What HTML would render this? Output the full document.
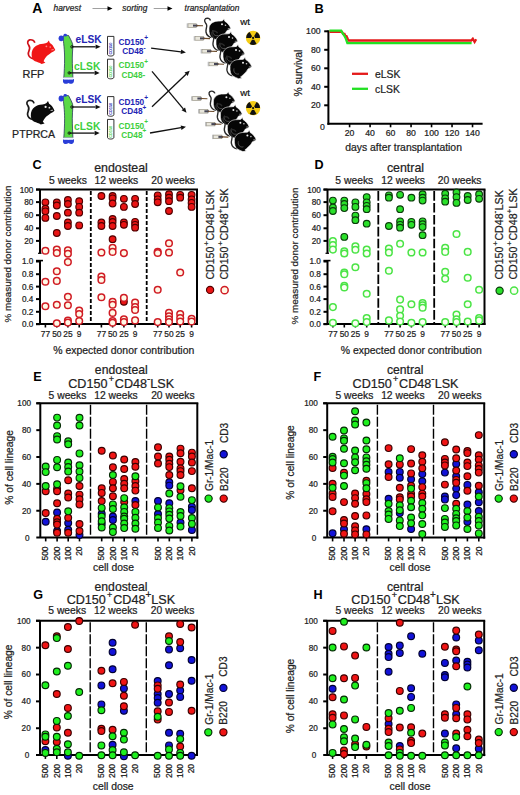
<!DOCTYPE html>
<html><head><meta charset="utf-8"><style>
html,body{margin:0;padding:0;background:#fff;width:520px;height:795px;overflow:hidden}
svg{display:block}
text{font-family:"Liberation Sans",sans-serif}
</style></head><body>
<svg width="520" height="795" viewBox="0 0 520 795">
<rect width="520" height="795" fill="#fff"/>
<text x="32.30" y="13.20" font-size="14" text-anchor="start" fill="#000" font-weight="bold">A</text>
<text x="53.50" y="10.70" font-size="8.4" text-anchor="start" fill="#222" font-style="italic" stroke="#222" stroke-width="0.22">harvest</text>
<text x="122.30" y="10.70" font-size="8.4" text-anchor="start" fill="#222" font-style="italic" stroke="#222" stroke-width="0.22">sorting</text>
<text x="184.60" y="10.70" font-size="8.35" text-anchor="start" fill="#222" font-style="italic" stroke="#222" stroke-width="0.22">transplantation</text>
<line x1="92.50" y1="8.50" x2="108.50" y2="8.50" stroke="#a0a0a0" stroke-width="1.0" stroke-linecap="butt"/>
<path d="M107.5,6.2 L112.5,8.5 L107.5,10.8 Z" fill="#000"/>
<line x1="153.70" y1="8.50" x2="168.50" y2="8.50" stroke="#a0a0a0" stroke-width="1.0" stroke-linecap="butt"/>
<path d="M167.5,6.2 L172.5,8.5 L167.5,10.8 Z" fill="#000"/>
<path d="M34.8,42.8 C34.3,40.5 31.8,39.3 29.7,39.9 C27.4,40.7 27.1,43 28.6,45 C29.9,46.7 29.9,48.8 29,50.8 C28.1,52.8 28.1,55.2 29.8,57 C30.8,58.1 32,58.6 33.5,58.8" fill="none" stroke="#d01018" stroke-width="1.7"/>
<path d="M31.6,55 C31.4,51 33,48 35.5,46.3 C37,45.3 39,44.5 41,44.1 C42.5,43.8 44,43.6 45.5,43.3 L47.3,42.4 L48.8,40.4 L49.9,43.1 C51.5,44 52.6,45 53.2,46.2 C54.1,47.4 54.8,48.8 55.3,50.1 C54.2,51.4 52.9,52.1 51.5,52.6 C50,53.9 48.5,55 47.1,55.8 C45.6,57.2 44.4,59.2 43.6,61.2 L45.4,62.8 L41.6,63.9 C39.5,62.6 37.2,62 35,61.2 C32.8,60.2 31.7,58 31.6,55 Z" fill="#f01616"/>
<circle cx="46.4" cy="46.3" r="0.9" fill="#ff8a8a"/><circle cx="50.2" cy="47.1" r="0.8" fill="#ff8a8a"/><path d="M51.4,49.9 L53.8,49.6" stroke="#ffb0b0" stroke-width="0.8"/>
<text x="22.60" y="77.50" font-size="10.9" text-anchor="start" fill="#222" stroke="#222" stroke-width="0.22">RFP</text>
<g transform="translate(-0.8,60.6) scale(1)">
<path d="M34.8,42.8 C34.3,40.5 31.8,39.3 29.7,39.9 C27.4,40.7 27.1,43 28.6,45 C29.9,46.7 29.9,48.8 29,50.8 C28.1,52.8 28.1,55.2 29.8,57 C30.8,58.1 32,58.6 33.5,58.8" fill="none" stroke="#1a1a1a" stroke-width="1.7"/>
<path d="M31.6,55 C31.4,51 33,48 35.5,46.3 C37,45.3 39,44.5 41,44.1 C42.5,43.8 44,43.6 45.5,43.3 L47.3,42.4 L48.8,40.4 L49.9,43.1 C51.5,44 52.6,45 53.2,46.2 C54.1,47.4 54.8,48.8 55.3,50.1 C54.2,51.4 52.9,52.1 51.5,52.6 C50,53.9 48.5,55 47.1,55.8 C45.6,57.2 44.4,59.2 43.6,61.2 L45.4,62.8 L41.6,63.9 C39.5,62.6 37.2,62 35,61.2 C32.8,60.2 31.7,58 31.6,55 Z" fill="#0a0a0a"/>
<circle cx="46.4" cy="46.3" r="1.1" fill="#eee"/><circle cx="50.2" cy="47.1" r="0.9" fill="#ddd"/><path d="M51.4,49.9 L53.8,49.6" stroke="#ccc" stroke-width="0.9"/>
</g>
<text x="12.10" y="138.00" font-size="10.6" text-anchor="start" fill="#222" stroke="#222" stroke-width="0.22">PTPRCA</text>
<g transform="translate(0,0)">
<path d="M63,37 L64.6,35 L68.6,35.5 L69.9,38 C71.1,40.5 72.7,43 72.9,46 C72.7,50 72.3,54 72.3,58 C72.3,66 72.7,72 72.9,77.6 L63.8,77.6 C64.2,72 64.6,66 64.6,58 C64.6,50 63.5,42 63,37 Z" fill="#5ad846" stroke="#2a3a5a" stroke-width="0.8"/>
<ellipse cx="61.2" cy="38.3" rx="2.6" ry="2.9" fill="#2a3ed8"/>
<ellipse cx="65.2" cy="35.2" rx="1.7" ry="1.4" fill="#2a3ed8"/>
<path d="M63.2,79.2 C65,78.2 66.5,78.5 68.4,79.2 C70.2,78.4 72.4,78.2 73.9,79.2 C74.4,81.2 73.6,83.4 71.6,83.7 C70,83.9 69,83.3 68.4,82.9 C67.3,83.7 65.5,84.1 64.2,83.5 C62.9,82.8 62.7,80.6 63.2,79.2 Z" fill="#2a3ed8"/>
<rect x="63.8" y="77.4" width="9.2" height="2.2" fill="#eef4ff"/>
</g>
<g transform="translate(0,60.2)">
<path d="M63,37 L64.6,35 L68.6,35.5 L69.9,38 C71.1,40.5 72.7,43 72.9,46 C72.7,50 72.3,54 72.3,58 C72.3,66 72.7,72 72.9,77.6 L63.8,77.6 C64.2,72 64.6,66 64.6,58 C64.6,50 63.5,42 63,37 Z" fill="#5ad846" stroke="#2a3a5a" stroke-width="0.8"/>
<ellipse cx="61.2" cy="38.3" rx="2.6" ry="2.9" fill="#2a3ed8"/>
<ellipse cx="65.2" cy="35.2" rx="1.7" ry="1.4" fill="#2a3ed8"/>
<path d="M63.2,79.2 C65,78.2 66.5,78.5 68.4,79.2 C70.2,78.4 72.4,78.2 73.9,79.2 C74.4,81.2 73.6,83.4 71.6,83.7 C70,83.9 69,83.3 68.4,82.9 C67.3,83.7 65.5,84.1 64.2,83.5 C62.9,82.8 62.7,80.6 63.2,79.2 Z" fill="#2a3ed8"/>
<rect x="63.8" y="77.4" width="9.2" height="2.2" fill="#eef4ff"/>
</g>
<line x1="71.90" y1="46.80" x2="95.60" y2="46.80" stroke="#111" stroke-width="1.3" stroke-linecap="butt"/>
<path d="M100.60,46.80 L95.60,49.10 L95.60,44.50 Z" fill="#111"/>
<circle cx="71.9" cy="46.8" r="1.2" fill="none" stroke="#111" stroke-width="0.9"/>
<line x1="69.20" y1="72.90" x2="94.60" y2="72.90" stroke="#111" stroke-width="1.3" stroke-linecap="butt"/>
<path d="M99.60,72.90 L94.60,75.20 L94.60,70.60 Z" fill="#111"/>
<circle cx="69.2" cy="72.9" r="1.2" fill="none" stroke="#111" stroke-width="0.9"/>
<text x="75.60" y="42.70" font-size="10.2" text-anchor="start" fill="#2424b4" font-weight="bold">eLSK</text>
<text x="74.10" y="69.90" font-size="10.25" text-anchor="start" fill="#3ecf3e" font-weight="bold">cLSK</text>
<path d="M107.5,36.4 L113.9,36.4 L113.9,54.4 C113.9,56.599999999999994 107.5,56.599999999999994 107.5,54.4 Z" fill="#fff" stroke="#1a1a1a" stroke-width="0.9"/>
<path d="M107.5,59.2 L113.9,59.2 L113.9,77.2 C113.9,79.4 107.5,79.4 107.5,77.2 Z" fill="#fff" stroke="#1a1a1a" stroke-width="0.9"/>
<text transform="translate(112.2,54.5) rotate(-90)" font-size="3.8" font-weight="bold" fill="#2424b4">CD150</text>
<text transform="translate(112.2,77.5) rotate(-90)" font-size="3.8" font-weight="bold" fill="#3ecf3e">CD150</text>
<line x1="71.90" y1="107.00" x2="95.60" y2="107.00" stroke="#111" stroke-width="1.3" stroke-linecap="butt"/>
<path d="M100.60,107.00 L95.60,109.30 L95.60,104.70 Z" fill="#111"/>
<circle cx="71.9" cy="107.0" r="1.2" fill="none" stroke="#111" stroke-width="0.9"/>
<line x1="69.20" y1="133.10" x2="94.60" y2="133.10" stroke="#111" stroke-width="1.3" stroke-linecap="butt"/>
<path d="M99.60,133.10 L94.60,135.40 L94.60,130.80 Z" fill="#111"/>
<circle cx="69.2" cy="133.10000000000002" r="1.2" fill="none" stroke="#111" stroke-width="0.9"/>
<text x="75.60" y="102.90" font-size="10.2" text-anchor="start" fill="#2424b4" font-weight="bold">eLSK</text>
<text x="74.10" y="130.10" font-size="10.25" text-anchor="start" fill="#3ecf3e" font-weight="bold">cLSK</text>
<path d="M107.5,96.6 L113.9,96.6 L113.9,114.6 C113.9,116.8 107.5,116.8 107.5,114.6 Z" fill="#fff" stroke="#1a1a1a" stroke-width="0.9"/>
<path d="M107.5,119.4 L113.9,119.4 L113.9,137.4 C113.9,139.6 107.5,139.6 107.5,137.4 Z" fill="#fff" stroke="#1a1a1a" stroke-width="0.9"/>
<text transform="translate(112.2,114.7) rotate(-90)" font-size="3.8" font-weight="bold" fill="#2424b4">CD150</text>
<text transform="translate(112.2,137.7) rotate(-90)" font-size="3.8" font-weight="bold" fill="#3ecf3e">CD150</text>
<text x="118.4" y="44.7" font-size="8.3" font-weight="bold" fill="#2424b4">CD150<tspan dy="-4.6" font-size="6.5">+</tspan></text>
<text x="122.2" y="54.3" font-size="8.3" font-weight="bold" fill="#2424b4">CD48<tspan dy="-4.6" font-size="6.5">-</tspan></text>
<text x="118.4" y="68.4" font-size="8.3" font-weight="bold" fill="#3ecf3e">CD150<tspan dy="-4.6" font-size="6.5">+</tspan></text>
<text x="121.4" y="77.6" font-size="8.3" font-weight="bold" fill="#3ecf3e">CD48-</text>
<text x="118.4" y="104.9" font-size="8.3" font-weight="bold" fill="#2424b4">CD150<tspan dy="-4.6" font-size="6.5">+</tspan></text>
<text x="121.3" y="114.1" font-size="8.3" font-weight="bold" fill="#2424b4">CD48<tspan dy="-4.6" font-size="6.5">+</tspan></text>
<text x="118.4" y="128.5" font-size="8.3" font-weight="bold" fill="#3ecf3e">CD150<tspan dy="-4.6" font-size="6.5">+</tspan></text>
<text x="121.3" y="137.7" font-size="8.3" font-weight="bold" fill="#3ecf3e">CD48<tspan dy="-4.6" font-size="6.5">+</tspan></text>
<line x1="151.10" y1="48.20" x2="180.94" y2="51.80" stroke="#111" stroke-width="1.3" stroke-linecap="butt"/>
<path d="M185.90,52.40 L180.66,54.08 L181.21,49.52 Z" fill="#111"/>
<line x1="152.00" y1="71.40" x2="183.29" y2="108.86" stroke="#111" stroke-width="1.3" stroke-linecap="butt"/>
<path d="M186.50,112.70 L181.53,110.34 L185.06,107.39 Z" fill="#111"/>
<line x1="152.00" y1="106.70" x2="186.08" y2="74.25" stroke="#111" stroke-width="1.3" stroke-linecap="butt"/>
<path d="M189.70,70.80 L187.67,75.91 L184.49,72.58 Z" fill="#111"/>
<line x1="150.00" y1="133.00" x2="181.07" y2="127.65" stroke="#111" stroke-width="1.3" stroke-linecap="butt"/>
<path d="M186.00,126.80 L181.46,129.92 L180.68,125.38 Z" fill="#111"/>
<rect x="188" y="23.8" width="8.5" height="3.6" fill="#e8e6dc" stroke="#8a8676" stroke-width="0.6"/>
<rect x="193" y="24.6" width="4.5" height="2" fill="#445"/>
<path d="M196.5,25.6 L203,25.8" stroke="#6b4a2a" stroke-width="1.1"/>
<rect x="186.7" y="23.400000000000002" width="1.3" height="4.4" fill="#bbb"/>
<g transform="translate(209,20.0)">
<path d="M1.5,0.5 C1,-1.3 -1.5,-2.5 -3.5,-1.3 C-5.3,0 -4,2.5 -2.5,4.5 C-1.5,6.5 -3.5,9 -3,12 C-2.5,14.5 -0.5,17 2.5,17.5" fill="none" stroke="#2a2a2a" stroke-width="1.4"/>
<path d="M0,8 C0.5,4 4,1.5 8,1.2 C10,1 12,1.3 13.5,0.8 L15,-1.2 L15.8,1.2 C18,2.5 20.5,5 21.8,8.2 C21,9.3 19.5,10 18,10.5 C17,12.5 15.5,14.5 13.5,16 C12.5,17 11.5,18 10.5,18.6 L12,19.8 L8.5,20.3 C6.5,19.4 4.5,18.6 2.8,17.6 C0.8,16.3 -0.3,13 0,8 Z" fill="#060606" stroke="#fff" stroke-width="0.6"/>
<circle cx="13" cy="4.3" r="1" fill="#eee"/><circle cx="16.5" cy="5.3" r="0.8" fill="#ccc"/><path d="M18.8,8.6 L21.2,8.3" stroke="#bbb" stroke-width="0.7"/>
<path d="M4,10 C3,14 6,16.5 9,15.5" fill="none" stroke="#555" stroke-width="0.9"/>
</g>
<rect x="195" y="36.599999999999994" width="8.5" height="3.6" fill="#e8e6dc" stroke="#8a8676" stroke-width="0.6"/>
<rect x="200" y="37.39999999999999" width="4.5" height="2" fill="#445"/>
<path d="M203.5,38.39999999999999 L210,38.599999999999994" stroke="#6b4a2a" stroke-width="1.1"/>
<rect x="193.7" y="36.199999999999996" width="1.3" height="4.4" fill="#bbb"/>
<g transform="translate(216,32.8)">
<path d="M1.5,0.5 C1,-1.3 -1.5,-2.5 -3.5,-1.3 C-5.3,0 -4,2.5 -2.5,4.5 C-1.5,6.5 -3.5,9 -3,12 C-2.5,14.5 -0.5,17 2.5,17.5" fill="none" stroke="#2a2a2a" stroke-width="1.4"/>
<path d="M0,8 C0.5,4 4,1.5 8,1.2 C10,1 12,1.3 13.5,0.8 L15,-1.2 L15.8,1.2 C18,2.5 20.5,5 21.8,8.2 C21,9.3 19.5,10 18,10.5 C17,12.5 15.5,14.5 13.5,16 C12.5,17 11.5,18 10.5,18.6 L12,19.8 L8.5,20.3 C6.5,19.4 4.5,18.6 2.8,17.6 C0.8,16.3 -0.3,13 0,8 Z" fill="#060606" stroke="#fff" stroke-width="0.6"/>
<circle cx="13" cy="4.3" r="1" fill="#eee"/><circle cx="16.5" cy="5.3" r="0.8" fill="#ccc"/><path d="M18.8,8.6 L21.2,8.3" stroke="#bbb" stroke-width="0.7"/>
<path d="M4,10 C3,14 6,16.5 9,15.5" fill="none" stroke="#555" stroke-width="0.9"/>
</g>
<rect x="202" y="49.4" width="8.5" height="3.6" fill="#e8e6dc" stroke="#8a8676" stroke-width="0.6"/>
<rect x="207" y="50.199999999999996" width="4.5" height="2" fill="#445"/>
<path d="M210.5,51.199999999999996 L217,51.4" stroke="#6b4a2a" stroke-width="1.1"/>
<rect x="200.7" y="49.0" width="1.3" height="4.4" fill="#bbb"/>
<g transform="translate(223,45.6)">
<path d="M1.5,0.5 C1,-1.3 -1.5,-2.5 -3.5,-1.3 C-5.3,0 -4,2.5 -2.5,4.5 C-1.5,6.5 -3.5,9 -3,12 C-2.5,14.5 -0.5,17 2.5,17.5" fill="none" stroke="#2a2a2a" stroke-width="1.4"/>
<path d="M0,8 C0.5,4 4,1.5 8,1.2 C10,1 12,1.3 13.5,0.8 L15,-1.2 L15.8,1.2 C18,2.5 20.5,5 21.8,8.2 C21,9.3 19.5,10 18,10.5 C17,12.5 15.5,14.5 13.5,16 C12.5,17 11.5,18 10.5,18.6 L12,19.8 L8.5,20.3 C6.5,19.4 4.5,18.6 2.8,17.6 C0.8,16.3 -0.3,13 0,8 Z" fill="#060606" stroke="#fff" stroke-width="0.6"/>
<circle cx="13" cy="4.3" r="1" fill="#eee"/><circle cx="16.5" cy="5.3" r="0.8" fill="#ccc"/><path d="M18.8,8.6 L21.2,8.3" stroke="#bbb" stroke-width="0.7"/>
<path d="M4,10 C3,14 6,16.5 9,15.5" fill="none" stroke="#555" stroke-width="0.9"/>
</g>
<rect x="209" y="62.2" width="8.5" height="3.6" fill="#e8e6dc" stroke="#8a8676" stroke-width="0.6"/>
<rect x="214" y="63.0" width="4.5" height="2" fill="#445"/>
<path d="M217.5,64.0 L224,64.2" stroke="#6b4a2a" stroke-width="1.1"/>
<rect x="207.7" y="61.800000000000004" width="1.3" height="4.4" fill="#bbb"/>
<g transform="translate(230,58.400000000000006)">
<path d="M1.5,0.5 C1,-1.3 -1.5,-2.5 -3.5,-1.3 C-5.3,0 -4,2.5 -2.5,4.5 C-1.5,6.5 -3.5,9 -3,12 C-2.5,14.5 -0.5,17 2.5,17.5" fill="none" stroke="#2a2a2a" stroke-width="1.4"/>
<path d="M0,8 C0.5,4 4,1.5 8,1.2 C10,1 12,1.3 13.5,0.8 L15,-1.2 L15.8,1.2 C18,2.5 20.5,5 21.8,8.2 C21,9.3 19.5,10 18,10.5 C17,12.5 15.5,14.5 13.5,16 C12.5,17 11.5,18 10.5,18.6 L12,19.8 L8.5,20.3 C6.5,19.4 4.5,18.6 2.8,17.6 C0.8,16.3 -0.3,13 0,8 Z" fill="#060606" stroke="#fff" stroke-width="0.6"/>
<circle cx="13" cy="4.3" r="1" fill="#eee"/><circle cx="16.5" cy="5.3" r="0.8" fill="#ccc"/><path d="M18.8,8.6 L21.2,8.3" stroke="#bbb" stroke-width="0.7"/>
<path d="M4,10 C3,14 6,16.5 9,15.5" fill="none" stroke="#555" stroke-width="0.9"/>
</g>
<rect x="192.4" y="96.7" width="8.5" height="3.6" fill="#e8e6dc" stroke="#8a8676" stroke-width="0.6"/>
<rect x="197.4" y="97.5" width="4.5" height="2" fill="#445"/>
<path d="M200.9,98.5 L207.4,98.7" stroke="#6b4a2a" stroke-width="1.1"/>
<rect x="191.1" y="96.3" width="1.3" height="4.4" fill="#bbb"/>
<g transform="translate(213.4,92.9)">
<path d="M1.5,0.5 C1,-1.3 -1.5,-2.5 -3.5,-1.3 C-5.3,0 -4,2.5 -2.5,4.5 C-1.5,6.5 -3.5,9 -3,12 C-2.5,14.5 -0.5,17 2.5,17.5" fill="none" stroke="#2a2a2a" stroke-width="1.4"/>
<path d="M0,8 C0.5,4 4,1.5 8,1.2 C10,1 12,1.3 13.5,0.8 L15,-1.2 L15.8,1.2 C18,2.5 20.5,5 21.8,8.2 C21,9.3 19.5,10 18,10.5 C17,12.5 15.5,14.5 13.5,16 C12.5,17 11.5,18 10.5,18.6 L12,19.8 L8.5,20.3 C6.5,19.4 4.5,18.6 2.8,17.6 C0.8,16.3 -0.3,13 0,8 Z" fill="#060606" stroke="#fff" stroke-width="0.6"/>
<circle cx="13" cy="4.3" r="1" fill="#eee"/><circle cx="16.5" cy="5.3" r="0.8" fill="#ccc"/><path d="M18.8,8.6 L21.2,8.3" stroke="#bbb" stroke-width="0.7"/>
<path d="M4,10 C3,14 6,16.5 9,15.5" fill="none" stroke="#555" stroke-width="0.9"/>
</g>
<rect x="199.4" y="109.5" width="8.5" height="3.6" fill="#e8e6dc" stroke="#8a8676" stroke-width="0.6"/>
<rect x="204.4" y="110.3" width="4.5" height="2" fill="#445"/>
<path d="M207.9,111.3 L214.4,111.5" stroke="#6b4a2a" stroke-width="1.1"/>
<rect x="198.1" y="109.1" width="1.3" height="4.4" fill="#bbb"/>
<g transform="translate(220.4,105.7)">
<path d="M1.5,0.5 C1,-1.3 -1.5,-2.5 -3.5,-1.3 C-5.3,0 -4,2.5 -2.5,4.5 C-1.5,6.5 -3.5,9 -3,12 C-2.5,14.5 -0.5,17 2.5,17.5" fill="none" stroke="#2a2a2a" stroke-width="1.4"/>
<path d="M0,8 C0.5,4 4,1.5 8,1.2 C10,1 12,1.3 13.5,0.8 L15,-1.2 L15.8,1.2 C18,2.5 20.5,5 21.8,8.2 C21,9.3 19.5,10 18,10.5 C17,12.5 15.5,14.5 13.5,16 C12.5,17 11.5,18 10.5,18.6 L12,19.8 L8.5,20.3 C6.5,19.4 4.5,18.6 2.8,17.6 C0.8,16.3 -0.3,13 0,8 Z" fill="#060606" stroke="#fff" stroke-width="0.6"/>
<circle cx="13" cy="4.3" r="1" fill="#eee"/><circle cx="16.5" cy="5.3" r="0.8" fill="#ccc"/><path d="M18.8,8.6 L21.2,8.3" stroke="#bbb" stroke-width="0.7"/>
<path d="M4,10 C3,14 6,16.5 9,15.5" fill="none" stroke="#555" stroke-width="0.9"/>
</g>
<rect x="206.4" y="122.3" width="8.5" height="3.6" fill="#e8e6dc" stroke="#8a8676" stroke-width="0.6"/>
<rect x="211.4" y="123.1" width="4.5" height="2" fill="#445"/>
<path d="M214.9,124.1 L221.4,124.3" stroke="#6b4a2a" stroke-width="1.1"/>
<rect x="205.1" y="121.89999999999999" width="1.3" height="4.4" fill="#bbb"/>
<g transform="translate(227.4,118.5)">
<path d="M1.5,0.5 C1,-1.3 -1.5,-2.5 -3.5,-1.3 C-5.3,0 -4,2.5 -2.5,4.5 C-1.5,6.5 -3.5,9 -3,12 C-2.5,14.5 -0.5,17 2.5,17.5" fill="none" stroke="#2a2a2a" stroke-width="1.4"/>
<path d="M0,8 C0.5,4 4,1.5 8,1.2 C10,1 12,1.3 13.5,0.8 L15,-1.2 L15.8,1.2 C18,2.5 20.5,5 21.8,8.2 C21,9.3 19.5,10 18,10.5 C17,12.5 15.5,14.5 13.5,16 C12.5,17 11.5,18 10.5,18.6 L12,19.8 L8.5,20.3 C6.5,19.4 4.5,18.6 2.8,17.6 C0.8,16.3 -0.3,13 0,8 Z" fill="#060606" stroke="#fff" stroke-width="0.6"/>
<circle cx="13" cy="4.3" r="1" fill="#eee"/><circle cx="16.5" cy="5.3" r="0.8" fill="#ccc"/><path d="M18.8,8.6 L21.2,8.3" stroke="#bbb" stroke-width="0.7"/>
<path d="M4,10 C3,14 6,16.5 9,15.5" fill="none" stroke="#555" stroke-width="0.9"/>
</g>
<rect x="213.4" y="135.10000000000002" width="8.5" height="3.6" fill="#e8e6dc" stroke="#8a8676" stroke-width="0.6"/>
<rect x="218.4" y="135.90000000000003" width="4.5" height="2" fill="#445"/>
<path d="M221.9,136.90000000000003 L228.4,137.10000000000002" stroke="#6b4a2a" stroke-width="1.1"/>
<rect x="212.1" y="134.70000000000002" width="1.3" height="4.4" fill="#bbb"/>
<g transform="translate(234.4,131.3)">
<path d="M1.5,0.5 C1,-1.3 -1.5,-2.5 -3.5,-1.3 C-5.3,0 -4,2.5 -2.5,4.5 C-1.5,6.5 -3.5,9 -3,12 C-2.5,14.5 -0.5,17 2.5,17.5" fill="none" stroke="#2a2a2a" stroke-width="1.4"/>
<path d="M0,8 C0.5,4 4,1.5 8,1.2 C10,1 12,1.3 13.5,0.8 L15,-1.2 L15.8,1.2 C18,2.5 20.5,5 21.8,8.2 C21,9.3 19.5,10 18,10.5 C17,12.5 15.5,14.5 13.5,16 C12.5,17 11.5,18 10.5,18.6 L12,19.8 L8.5,20.3 C6.5,19.4 4.5,18.6 2.8,17.6 C0.8,16.3 -0.3,13 0,8 Z" fill="#060606" stroke="#fff" stroke-width="0.6"/>
<circle cx="13" cy="4.3" r="1" fill="#eee"/><circle cx="16.5" cy="5.3" r="0.8" fill="#ccc"/><path d="M18.8,8.6 L21.2,8.3" stroke="#bbb" stroke-width="0.7"/>
<path d="M4,10 C3,14 6,16.5 9,15.5" fill="none" stroke="#555" stroke-width="0.9"/>
</g>
<text x="240.30" y="24.90" font-size="9.8" text-anchor="start" fill="#111" stroke="#111" stroke-width="0.22">wt</text>
<text x="240.30" y="96.40" font-size="9.8" text-anchor="start" fill="#111" stroke="#111" stroke-width="0.22">wt</text>
<circle cx="253.1" cy="37.9" r="7.2" fill="#f4cc14"/>
<path d="M254.80,37.90 L260.00,37.90 A6.9,6.9 0 0 0 256.55,31.92 L253.95,36.43 Z" fill="#111"/>
<path d="M252.25,36.43 L249.65,31.92 A6.9,6.9 0 0 0 246.20,37.90 L251.40,37.90 Z" fill="#111"/>
<path d="M252.25,39.37 L249.65,43.88 A6.9,6.9 0 0 0 256.55,43.88 L253.95,39.37 Z" fill="#111"/>
<circle cx="253.1" cy="37.9" r="1.9" fill="#f4cc14"/>
<circle cx="253.1" cy="37.9" r="1.1" fill="#111"/>
<circle cx="253.1" cy="108.1" r="7.2" fill="#f4cc14"/>
<path d="M254.80,108.10 L260.00,108.10 A6.9,6.9 0 0 0 256.55,102.12 L253.95,106.63 Z" fill="#111"/>
<path d="M252.25,106.63 L249.65,102.12 A6.9,6.9 0 0 0 246.20,108.10 L251.40,108.10 Z" fill="#111"/>
<path d="M252.25,109.57 L249.65,114.08 A6.9,6.9 0 0 0 256.55,114.08 L253.95,109.57 Z" fill="#111"/>
<circle cx="253.1" cy="108.1" r="1.9" fill="#f4cc14"/>
<circle cx="253.1" cy="108.1" r="1.1" fill="#111"/>
<text x="314.40" y="12.80" font-size="12.8" text-anchor="start" fill="#000" font-weight="bold">B</text>
<line x1="328.40" y1="30.30" x2="328.40" y2="124.80" stroke="#000" stroke-width="2" stroke-linecap="butt"/>
<line x1="327.40" y1="123.80" x2="482.60" y2="123.80" stroke="#000" stroke-width="2" stroke-linecap="butt"/>
<line x1="324.20" y1="31.30" x2="328.40" y2="31.30" stroke="#000" stroke-width="2" stroke-linecap="butt"/>
<text x="320.60" y="34.40" font-size="8.7" text-anchor="end" fill="#222" stroke="#222" stroke-width="0.22">100</text>
<line x1="324.20" y1="49.80" x2="328.40" y2="49.80" stroke="#000" stroke-width="2" stroke-linecap="butt"/>
<text x="320.60" y="52.90" font-size="8.7" text-anchor="end" fill="#222" stroke="#222" stroke-width="0.22">80</text>
<line x1="324.20" y1="68.30" x2="328.40" y2="68.30" stroke="#000" stroke-width="2" stroke-linecap="butt"/>
<text x="320.60" y="71.40" font-size="8.7" text-anchor="end" fill="#222" stroke="#222" stroke-width="0.22">60</text>
<line x1="324.20" y1="86.80" x2="328.40" y2="86.80" stroke="#000" stroke-width="2" stroke-linecap="butt"/>
<text x="320.60" y="89.90" font-size="8.7" text-anchor="end" fill="#222" stroke="#222" stroke-width="0.22">40</text>
<line x1="324.20" y1="105.30" x2="328.40" y2="105.30" stroke="#000" stroke-width="2" stroke-linecap="butt"/>
<text x="320.60" y="108.40" font-size="8.7" text-anchor="end" fill="#222" stroke="#222" stroke-width="0.22">20</text>
<text x="324.80" y="130.20" font-size="8.7" text-anchor="end" fill="#222" stroke="#222" stroke-width="0.22">0</text>
<line x1="349.59" y1="123.80" x2="349.59" y2="127.30" stroke="#000" stroke-width="1.6" stroke-linecap="butt"/>
<text x="349.59" y="135.60" font-size="8.7" text-anchor="middle" fill="#222" stroke="#222" stroke-width="0.22">20</text>
<line x1="370.08" y1="123.80" x2="370.08" y2="127.30" stroke="#000" stroke-width="1.6" stroke-linecap="butt"/>
<text x="370.08" y="135.60" font-size="8.7" text-anchor="middle" fill="#222" stroke="#222" stroke-width="0.22">40</text>
<line x1="390.57" y1="123.80" x2="390.57" y2="127.30" stroke="#000" stroke-width="1.6" stroke-linecap="butt"/>
<text x="390.57" y="135.60" font-size="8.7" text-anchor="middle" fill="#222" stroke="#222" stroke-width="0.22">60</text>
<line x1="411.06" y1="123.80" x2="411.06" y2="127.30" stroke="#000" stroke-width="1.6" stroke-linecap="butt"/>
<text x="411.06" y="135.60" font-size="8.7" text-anchor="middle" fill="#222" stroke="#222" stroke-width="0.22">80</text>
<line x1="431.55" y1="123.80" x2="431.55" y2="127.30" stroke="#000" stroke-width="1.6" stroke-linecap="butt"/>
<text x="431.55" y="135.60" font-size="8.7" text-anchor="middle" fill="#222" stroke="#222" stroke-width="0.22">100</text>
<line x1="452.04" y1="123.80" x2="452.04" y2="127.30" stroke="#000" stroke-width="1.6" stroke-linecap="butt"/>
<text x="452.04" y="135.60" font-size="8.7" text-anchor="middle" fill="#222" stroke="#222" stroke-width="0.22">120</text>
<line x1="472.53" y1="123.80" x2="472.53" y2="127.30" stroke="#000" stroke-width="1.6" stroke-linecap="butt"/>
<text x="472.53" y="135.60" font-size="8.7" text-anchor="middle" fill="#222" stroke="#222" stroke-width="0.22">140</text>
<text transform="translate(302.00,73.10) rotate(-90)" x="0" y="0" font-size="10.3" text-anchor="middle" fill="#222" stroke="#222" stroke-width="0.22">% survival</text>
<text x="403.60" y="151.10" font-size="10.4" text-anchor="middle" fill="#222" stroke="#222" stroke-width="0.22">days after transplantation</text>
<path d="M329.4,31.8 H342 L343,33.8 H344.5 L345.5,36.2 H346.5 L347.6,38.6 L348.6,40.5 H471.2 L472.8,38.8 L474.6,42 L476.2,39.2" fill="none" stroke="#e41a1a" stroke-width="2.3"/>
<path d="M329.4,30.7 H341.2 L342.6,33.2 L344.4,35.8 L345.8,38.6 L347.4,43.1 H471.6" fill="none" stroke="#22e022" stroke-width="2.3"/>
<line x1="352.00" y1="73.80" x2="368.00" y2="73.80" stroke="#e41a1a" stroke-width="2.3" stroke-linecap="butt"/>
<line x1="352.00" y1="88.80" x2="368.00" y2="88.80" stroke="#22e022" stroke-width="2.3" stroke-linecap="butt"/>
<text x="375.00" y="77.50" font-size="10.4" text-anchor="start" fill="#222" stroke="#222" stroke-width="0.22">eLSK</text>
<text x="375.00" y="92.50" font-size="10.4" text-anchor="start" fill="#222" stroke="#222" stroke-width="0.22">cLSK</text>
<text x="32.60" y="169.20" font-size="12.6" text-anchor="start" fill="#000" font-weight="bold">C</text>
<text x="121.00" y="171.60" font-size="12.4" text-anchor="middle" fill="#222" stroke="#222" stroke-width="0.22">endosteal</text>
<text x="68.00" y="184.40" font-size="10.35" text-anchor="middle" fill="#222" stroke="#222" stroke-width="0.22">5 weeks</text>
<text x="116.40" y="184.40" font-size="10.35" text-anchor="middle" fill="#222" stroke="#222" stroke-width="0.22">12 weeks</text>
<text x="173.20" y="184.40" font-size="10.35" text-anchor="middle" fill="#222" stroke="#222" stroke-width="0.22">20 weeks</text>
<line x1="36.00" y1="189.60" x2="198.00" y2="189.60" stroke="#000" stroke-width="2" stroke-linecap="butt"/>
<line x1="197.00" y1="189.60" x2="197.00" y2="325.00" stroke="#000" stroke-width="2" stroke-linecap="butt"/>
<line x1="36.00" y1="324.00" x2="198.00" y2="324.00" stroke="#000" stroke-width="2" stroke-linecap="butt"/>
<line x1="90.80" y1="191.10" x2="90.80" y2="323.00" stroke="#000" stroke-width="1.8" stroke-linecap="butt" stroke-dasharray="4 2"/>
<line x1="146.70" y1="191.10" x2="146.70" y2="323.00" stroke="#000" stroke-width="1.8" stroke-linecap="butt" stroke-dasharray="4 2"/>
<line x1="40.00" y1="189.60" x2="40.00" y2="253.30" stroke="#000" stroke-width="2" stroke-linecap="butt"/>
<line x1="38.00" y1="253.30" x2="41.50" y2="253.30" stroke="#000" stroke-width="1.2" stroke-linecap="butt"/>
<line x1="40.00" y1="260.50" x2="40.00" y2="324.00" stroke="#000" stroke-width="2" stroke-linecap="butt"/>
<line x1="36.00" y1="260.60" x2="43.00" y2="260.60" stroke="#000" stroke-width="1.6" stroke-linecap="butt"/>
<text x="33.40" y="192.50" font-size="8.2" text-anchor="end" fill="#222" stroke="#222" stroke-width="0.22">100</text>
<line x1="36.00" y1="189.60" x2="40.00" y2="189.60" stroke="#000" stroke-width="2" stroke-linecap="butt"/>
<text x="33.40" y="205.00" font-size="8.2" text-anchor="end" fill="#222" stroke="#222" stroke-width="0.22">80</text>
<line x1="36.00" y1="202.10" x2="40.00" y2="202.10" stroke="#000" stroke-width="2" stroke-linecap="butt"/>
<text x="33.40" y="218.10" font-size="8.2" text-anchor="end" fill="#222" stroke="#222" stroke-width="0.22">60</text>
<line x1="36.00" y1="215.20" x2="40.00" y2="215.20" stroke="#000" stroke-width="2" stroke-linecap="butt"/>
<text x="33.40" y="231.20" font-size="8.2" text-anchor="end" fill="#222" stroke="#222" stroke-width="0.22">40</text>
<line x1="36.00" y1="228.30" x2="40.00" y2="228.30" stroke="#000" stroke-width="2" stroke-linecap="butt"/>
<text x="33.40" y="243.80" font-size="8.2" text-anchor="end" fill="#222" stroke="#222" stroke-width="0.22">20</text>
<line x1="36.00" y1="240.90" x2="40.00" y2="240.90" stroke="#000" stroke-width="2" stroke-linecap="butt"/>
<text x="33.40" y="264.40" font-size="8.2" text-anchor="end" fill="#222" stroke="#222" stroke-width="0.22">1.0</text>
<line x1="36.00" y1="261.50" x2="40.00" y2="261.50" stroke="#000" stroke-width="2" stroke-linecap="butt"/>
<text x="33.40" y="277.10" font-size="8.2" text-anchor="end" fill="#222" stroke="#222" stroke-width="0.22">0.8</text>
<line x1="36.00" y1="274.20" x2="40.00" y2="274.20" stroke="#000" stroke-width="2" stroke-linecap="butt"/>
<text x="33.40" y="289.50" font-size="8.2" text-anchor="end" fill="#222" stroke="#222" stroke-width="0.22">0.6</text>
<line x1="36.00" y1="286.60" x2="40.00" y2="286.60" stroke="#000" stroke-width="2" stroke-linecap="butt"/>
<text x="33.40" y="302.00" font-size="8.2" text-anchor="end" fill="#222" stroke="#222" stroke-width="0.22">0.4</text>
<line x1="36.00" y1="299.10" x2="40.00" y2="299.10" stroke="#000" stroke-width="2" stroke-linecap="butt"/>
<text x="33.40" y="314.70" font-size="8.2" text-anchor="end" fill="#222" stroke="#222" stroke-width="0.22">0.2</text>
<line x1="36.00" y1="311.80" x2="40.00" y2="311.80" stroke="#000" stroke-width="2" stroke-linecap="butt"/>
<text x="33.40" y="327.10" font-size="8.2" text-anchor="end" fill="#222" stroke="#222" stroke-width="0.22">0.0</text>
<line x1="36.00" y1="324.20" x2="40.00" y2="324.20" stroke="#000" stroke-width="2" stroke-linecap="butt"/>
<line x1="45.40" y1="324.00" x2="45.40" y2="327.50" stroke="#000" stroke-width="1.6" stroke-linecap="butt"/>
<text x="45.40" y="336.80" font-size="8.4" text-anchor="middle" fill="#222" stroke="#222" stroke-width="0.22">77</text>
<line x1="56.80" y1="324.00" x2="56.80" y2="327.50" stroke="#000" stroke-width="1.6" stroke-linecap="butt"/>
<text x="56.80" y="336.80" font-size="8.4" text-anchor="middle" fill="#222" stroke="#222" stroke-width="0.22">50</text>
<line x1="67.90" y1="324.00" x2="67.90" y2="327.50" stroke="#000" stroke-width="1.6" stroke-linecap="butt"/>
<text x="67.90" y="336.80" font-size="8.4" text-anchor="middle" fill="#222" stroke="#222" stroke-width="0.22">25</text>
<line x1="79.20" y1="324.00" x2="79.20" y2="327.50" stroke="#000" stroke-width="1.6" stroke-linecap="butt"/>
<text x="79.20" y="336.80" font-size="8.4" text-anchor="middle" fill="#222" stroke="#222" stroke-width="0.22">9</text>
<line x1="101.40" y1="324.00" x2="101.40" y2="327.50" stroke="#000" stroke-width="1.6" stroke-linecap="butt"/>
<text x="101.40" y="336.80" font-size="8.4" text-anchor="middle" fill="#222" stroke="#222" stroke-width="0.22">77</text>
<line x1="112.60" y1="324.00" x2="112.60" y2="327.50" stroke="#000" stroke-width="1.6" stroke-linecap="butt"/>
<text x="112.60" y="336.80" font-size="8.4" text-anchor="middle" fill="#222" stroke="#222" stroke-width="0.22">50</text>
<line x1="123.90" y1="324.00" x2="123.90" y2="327.50" stroke="#000" stroke-width="1.6" stroke-linecap="butt"/>
<text x="123.90" y="336.80" font-size="8.4" text-anchor="middle" fill="#222" stroke="#222" stroke-width="0.22">25</text>
<line x1="135.10" y1="324.00" x2="135.10" y2="327.50" stroke="#000" stroke-width="1.6" stroke-linecap="butt"/>
<text x="135.10" y="336.80" font-size="8.4" text-anchor="middle" fill="#222" stroke="#222" stroke-width="0.22">9</text>
<line x1="157.70" y1="324.00" x2="157.70" y2="327.50" stroke="#000" stroke-width="1.6" stroke-linecap="butt"/>
<text x="157.70" y="336.80" font-size="8.4" text-anchor="middle" fill="#222" stroke="#222" stroke-width="0.22">77</text>
<line x1="169.00" y1="324.00" x2="169.00" y2="327.50" stroke="#000" stroke-width="1.6" stroke-linecap="butt"/>
<text x="169.00" y="336.80" font-size="8.4" text-anchor="middle" fill="#222" stroke="#222" stroke-width="0.22">50</text>
<line x1="180.20" y1="324.00" x2="180.20" y2="327.50" stroke="#000" stroke-width="1.6" stroke-linecap="butt"/>
<text x="180.20" y="336.80" font-size="8.4" text-anchor="middle" fill="#222" stroke="#222" stroke-width="0.22">25</text>
<line x1="191.60" y1="324.00" x2="191.60" y2="327.50" stroke="#000" stroke-width="1.6" stroke-linecap="butt"/>
<text x="191.60" y="336.80" font-size="8.4" text-anchor="middle" fill="#222" stroke="#222" stroke-width="0.22">9</text>
<text x="123.80" y="354.20" font-size="10.45" text-anchor="middle" fill="#222" stroke="#222" stroke-width="0.22">% expected donor contribution</text>
<text transform="translate(10.50,254.00) rotate(-90)" x="0" y="0" font-size="9.85" text-anchor="middle" fill="#222" stroke="#222" stroke-width="0.22">% measured donor contribution</text>
<circle cx="45.40" cy="202.30" r="3.35" fill="#ea1414" stroke="#500000" stroke-width="1.15"/>
<circle cx="45.40" cy="208.70" r="3.35" fill="#ea1414" stroke="#500000" stroke-width="1.15"/>
<circle cx="45.40" cy="211.30" r="3.35" fill="#ea1414" stroke="#500000" stroke-width="1.15"/>
<circle cx="45.40" cy="217.90" r="3.35" fill="#ea1414" stroke="#500000" stroke-width="1.15"/>
<circle cx="45.40" cy="250.80" r="3.30" fill="#fff8e6" stroke="#d01c24" stroke-width="1.5"/>
<circle cx="45.40" cy="281.70" r="3.30" fill="#fff8e6" stroke="#d01c24" stroke-width="1.5"/>
<circle cx="45.40" cy="306.30" r="3.30" fill="#fff8e6" stroke="#d01c24" stroke-width="1.5"/>
<circle cx="56.80" cy="202.50" r="3.35" fill="#ea1414" stroke="#500000" stroke-width="1.15"/>
<circle cx="56.80" cy="205.50" r="3.35" fill="#ea1414" stroke="#500000" stroke-width="1.15"/>
<circle cx="56.80" cy="216.00" r="3.35" fill="#ea1414" stroke="#500000" stroke-width="1.15"/>
<circle cx="56.80" cy="233.00" r="3.35" fill="#ea1414" stroke="#500000" stroke-width="1.15"/>
<circle cx="56.80" cy="249.60" r="3.30" fill="#fff8e6" stroke="#d01c24" stroke-width="1.5"/>
<circle cx="56.80" cy="253.00" r="3.30" fill="#fff8e6" stroke="#d01c24" stroke-width="1.5"/>
<circle cx="56.80" cy="271.30" r="3.30" fill="#fff8e6" stroke="#d01c24" stroke-width="1.5"/>
<circle cx="56.80" cy="280.90" r="3.30" fill="#fff8e6" stroke="#d01c24" stroke-width="1.5"/>
<circle cx="56.80" cy="304.80" r="3.30" fill="#fff8e6" stroke="#d01c24" stroke-width="1.5"/>
<circle cx="56.80" cy="323.30" r="3.30" fill="#fff8e6" stroke="#d01c24" stroke-width="1.5"/>
<circle cx="67.90" cy="200.00" r="3.35" fill="#ea1414" stroke="#500000" stroke-width="1.15"/>
<circle cx="67.90" cy="204.00" r="3.35" fill="#ea1414" stroke="#500000" stroke-width="1.15"/>
<circle cx="67.90" cy="212.70" r="3.35" fill="#ea1414" stroke="#500000" stroke-width="1.15"/>
<circle cx="67.90" cy="222.50" r="3.35" fill="#ea1414" stroke="#500000" stroke-width="1.15"/>
<circle cx="67.90" cy="226.00" r="3.35" fill="#ea1414" stroke="#500000" stroke-width="1.15"/>
<circle cx="67.90" cy="250.20" r="3.30" fill="#fff8e6" stroke="#d01c24" stroke-width="1.5"/>
<circle cx="67.90" cy="253.70" r="3.30" fill="#fff8e6" stroke="#d01c24" stroke-width="1.5"/>
<circle cx="67.90" cy="262.10" r="3.30" fill="#fff8e6" stroke="#d01c24" stroke-width="1.5"/>
<circle cx="67.90" cy="296.70" r="3.30" fill="#fff8e6" stroke="#d01c24" stroke-width="1.5"/>
<circle cx="67.90" cy="305.20" r="3.30" fill="#fff8e6" stroke="#d01c24" stroke-width="1.5"/>
<circle cx="67.90" cy="320.50" r="3.30" fill="#fff8e6" stroke="#d01c24" stroke-width="1.5"/>
<circle cx="67.90" cy="322.60" r="3.30" fill="#fff8e6" stroke="#d01c24" stroke-width="1.5"/>
<circle cx="79.20" cy="201.20" r="3.35" fill="#ea1414" stroke="#500000" stroke-width="1.15"/>
<circle cx="79.20" cy="206.90" r="3.35" fill="#ea1414" stroke="#500000" stroke-width="1.15"/>
<circle cx="79.20" cy="212.70" r="3.35" fill="#ea1414" stroke="#500000" stroke-width="1.15"/>
<circle cx="79.20" cy="225.40" r="3.35" fill="#ea1414" stroke="#500000" stroke-width="1.15"/>
<circle cx="79.20" cy="310.60" r="3.30" fill="#fff8e6" stroke="#d01c24" stroke-width="1.5"/>
<circle cx="79.20" cy="314.00" r="3.30" fill="#fff8e6" stroke="#d01c24" stroke-width="1.5"/>
<circle cx="79.20" cy="321.00" r="3.30" fill="#fff8e6" stroke="#d01c24" stroke-width="1.5"/>
<circle cx="101.40" cy="196.00" r="3.35" fill="#ea1414" stroke="#500000" stroke-width="1.15"/>
<circle cx="101.40" cy="222.50" r="3.35" fill="#ea1414" stroke="#500000" stroke-width="1.15"/>
<circle cx="101.40" cy="226.00" r="3.35" fill="#ea1414" stroke="#500000" stroke-width="1.15"/>
<circle cx="101.40" cy="252.50" r="3.30" fill="#fff8e6" stroke="#d01c24" stroke-width="1.5"/>
<circle cx="101.40" cy="276.50" r="3.30" fill="#fff8e6" stroke="#d01c24" stroke-width="1.5"/>
<circle cx="101.40" cy="280.00" r="3.30" fill="#fff8e6" stroke="#d01c24" stroke-width="1.5"/>
<circle cx="101.40" cy="297.30" r="3.30" fill="#fff8e6" stroke="#d01c24" stroke-width="1.5"/>
<circle cx="112.60" cy="196.00" r="3.35" fill="#ea1414" stroke="#500000" stroke-width="1.15"/>
<circle cx="112.60" cy="198.30" r="3.35" fill="#ea1414" stroke="#500000" stroke-width="1.15"/>
<circle cx="112.60" cy="203.50" r="3.35" fill="#ea1414" stroke="#500000" stroke-width="1.15"/>
<circle cx="112.60" cy="219.00" r="3.35" fill="#ea1414" stroke="#500000" stroke-width="1.15"/>
<circle cx="112.60" cy="222.00" r="3.35" fill="#ea1414" stroke="#500000" stroke-width="1.15"/>
<circle cx="112.60" cy="226.00" r="3.35" fill="#ea1414" stroke="#500000" stroke-width="1.15"/>
<circle cx="112.60" cy="239.20" r="3.35" fill="#ea1414" stroke="#500000" stroke-width="1.15"/>
<circle cx="112.60" cy="247.90" r="3.30" fill="#fff8e6" stroke="#d01c24" stroke-width="1.5"/>
<circle cx="112.60" cy="251.90" r="3.30" fill="#fff8e6" stroke="#d01c24" stroke-width="1.5"/>
<circle cx="112.60" cy="301.90" r="3.30" fill="#fff8e6" stroke="#d01c24" stroke-width="1.5"/>
<circle cx="112.60" cy="304.80" r="3.30" fill="#fff8e6" stroke="#d01c24" stroke-width="1.5"/>
<circle cx="112.60" cy="312.90" r="3.30" fill="#fff8e6" stroke="#d01c24" stroke-width="1.5"/>
<circle cx="112.60" cy="321.00" r="3.30" fill="#fff8e6" stroke="#d01c24" stroke-width="1.5"/>
<circle cx="112.60" cy="322.70" r="3.30" fill="#fff8e6" stroke="#d01c24" stroke-width="1.5"/>
<circle cx="123.90" cy="198.80" r="3.35" fill="#ea1414" stroke="#500000" stroke-width="1.15"/>
<circle cx="123.90" cy="206.90" r="3.35" fill="#ea1414" stroke="#500000" stroke-width="1.15"/>
<circle cx="123.90" cy="222.50" r="3.35" fill="#ea1414" stroke="#500000" stroke-width="1.15"/>
<circle cx="123.90" cy="224.80" r="3.35" fill="#ea1414" stroke="#500000" stroke-width="1.15"/>
<circle cx="123.90" cy="301.80" r="3.35" fill="#ea1414" stroke="#500000" stroke-width="1.15"/>
<circle cx="123.90" cy="253.10" r="3.30" fill="#fff8e6" stroke="#d01c24" stroke-width="1.5"/>
<circle cx="123.90" cy="297.90" r="3.30" fill="#fff8e6" stroke="#d01c24" stroke-width="1.5"/>
<circle cx="123.90" cy="319.20" r="3.30" fill="#fff8e6" stroke="#d01c24" stroke-width="1.5"/>
<circle cx="123.90" cy="322.10" r="3.30" fill="#fff8e6" stroke="#d01c24" stroke-width="1.5"/>
<circle cx="135.10" cy="198.80" r="3.35" fill="#ea1414" stroke="#500000" stroke-width="1.15"/>
<circle cx="135.10" cy="204.00" r="3.35" fill="#ea1414" stroke="#500000" stroke-width="1.15"/>
<circle cx="135.10" cy="221.90" r="3.35" fill="#ea1414" stroke="#500000" stroke-width="1.15"/>
<circle cx="135.10" cy="224.80" r="3.35" fill="#ea1414" stroke="#500000" stroke-width="1.15"/>
<circle cx="135.10" cy="227.70" r="3.35" fill="#ea1414" stroke="#500000" stroke-width="1.15"/>
<circle cx="135.10" cy="302.50" r="3.30" fill="#fff8e6" stroke="#d01c24" stroke-width="1.5"/>
<circle cx="135.10" cy="307.10" r="3.30" fill="#fff8e6" stroke="#d01c24" stroke-width="1.5"/>
<circle cx="135.10" cy="310.00" r="3.30" fill="#fff8e6" stroke="#d01c24" stroke-width="1.5"/>
<circle cx="135.10" cy="320.40" r="3.30" fill="#fff8e6" stroke="#d01c24" stroke-width="1.5"/>
<circle cx="157.70" cy="195.40" r="3.35" fill="#ea1414" stroke="#500000" stroke-width="1.15"/>
<circle cx="157.70" cy="199.40" r="3.35" fill="#ea1414" stroke="#500000" stroke-width="1.15"/>
<circle cx="157.70" cy="202.30" r="3.35" fill="#ea1414" stroke="#500000" stroke-width="1.15"/>
<circle cx="157.70" cy="251.90" r="3.30" fill="#fff8e6" stroke="#d01c24" stroke-width="1.5"/>
<circle cx="157.70" cy="253.00" r="3.30" fill="#fff8e6" stroke="#d01c24" stroke-width="1.5"/>
<circle cx="157.70" cy="289.80" r="3.30" fill="#fff8e6" stroke="#d01c24" stroke-width="1.5"/>
<circle cx="157.70" cy="322.10" r="3.30" fill="#fff8e6" stroke="#d01c24" stroke-width="1.5"/>
<circle cx="169.00" cy="194.20" r="3.35" fill="#ea1414" stroke="#500000" stroke-width="1.15"/>
<circle cx="169.00" cy="197.70" r="3.35" fill="#ea1414" stroke="#500000" stroke-width="1.15"/>
<circle cx="169.00" cy="201.20" r="3.35" fill="#ea1414" stroke="#500000" stroke-width="1.15"/>
<circle cx="169.00" cy="211.00" r="3.35" fill="#ea1414" stroke="#500000" stroke-width="1.15"/>
<circle cx="169.00" cy="243.30" r="3.30" fill="#fff8e6" stroke="#d01c24" stroke-width="1.5"/>
<circle cx="169.00" cy="252.50" r="3.30" fill="#fff8e6" stroke="#d01c24" stroke-width="1.5"/>
<circle cx="169.00" cy="312.90" r="3.30" fill="#fff8e6" stroke="#d01c24" stroke-width="1.5"/>
<circle cx="169.00" cy="316.30" r="3.30" fill="#fff8e6" stroke="#d01c24" stroke-width="1.5"/>
<circle cx="169.00" cy="319.20" r="3.30" fill="#fff8e6" stroke="#d01c24" stroke-width="1.5"/>
<circle cx="169.00" cy="322.10" r="3.30" fill="#fff8e6" stroke="#d01c24" stroke-width="1.5"/>
<circle cx="180.20" cy="194.80" r="3.35" fill="#ea1414" stroke="#500000" stroke-width="1.15"/>
<circle cx="180.20" cy="197.70" r="3.35" fill="#ea1414" stroke="#500000" stroke-width="1.15"/>
<circle cx="180.20" cy="272.50" r="3.30" fill="#fff8e6" stroke="#d01c24" stroke-width="1.5"/>
<circle cx="180.20" cy="314.00" r="3.30" fill="#fff8e6" stroke="#d01c24" stroke-width="1.5"/>
<circle cx="180.20" cy="318.00" r="3.30" fill="#fff8e6" stroke="#d01c24" stroke-width="1.5"/>
<circle cx="180.20" cy="321.50" r="3.30" fill="#fff8e6" stroke="#d01c24" stroke-width="1.5"/>
<circle cx="191.60" cy="194.80" r="3.35" fill="#ea1414" stroke="#500000" stroke-width="1.15"/>
<circle cx="191.60" cy="199.40" r="3.35" fill="#ea1414" stroke="#500000" stroke-width="1.15"/>
<circle cx="191.60" cy="202.90" r="3.35" fill="#ea1414" stroke="#500000" stroke-width="1.15"/>
<circle cx="191.60" cy="206.90" r="3.35" fill="#ea1414" stroke="#500000" stroke-width="1.15"/>
<circle cx="191.60" cy="318.70" r="3.30" fill="#fff8e6" stroke="#d01c24" stroke-width="1.5"/>
<circle cx="191.60" cy="321.50" r="3.30" fill="#fff8e6" stroke="#d01c24" stroke-width="1.5"/>
<text transform="translate(213.5,279.6) rotate(-90)" font-size="10.6" fill="#222" stroke="#222" stroke-width="0.22">CD150<tspan dx="0.8" dy="-5" font-size="8">+</tspan><tspan dx="0.6" dy="5">CD48</tspan><tspan dy="-5" font-size="8.5">-</tspan><tspan dx="0.3" dy="5">LSK</tspan></text>
<text transform="translate(227.8,279.6) rotate(-90)" font-size="10.6" fill="#222" stroke="#222" stroke-width="0.22">CD150<tspan dx="0.8" dy="-5" font-size="8">+</tspan><tspan dx="0.6" dy="5">CD48</tspan><tspan dy="-5" font-size="8">+</tspan><tspan dx="0.3" dy="5">LSK</tspan></text>
<circle cx="210.10" cy="289.90" r="3.60" fill="#ea1414" stroke="#500000" stroke-width="1.15"/>
<circle cx="224.60" cy="290.20" r="3.60" fill="#fff8e6" stroke="#d01c24" stroke-width="1.5"/>
<text x="314.40" y="169.20" font-size="12.6" text-anchor="start" fill="#000" font-weight="bold">D</text>
<text x="405.50" y="171.60" font-size="12.4" text-anchor="middle" fill="#222" stroke="#222" stroke-width="0.22">central</text>
<text x="354.30" y="184.40" font-size="10.35" text-anchor="middle" fill="#222" stroke="#222" stroke-width="0.22">5 weeks</text>
<text x="403.20" y="184.40" font-size="10.35" text-anchor="middle" fill="#222" stroke="#222" stroke-width="0.22">12 weeks</text>
<text x="459.70" y="184.40" font-size="10.35" text-anchor="middle" fill="#222" stroke="#222" stroke-width="0.22">20 weeks</text>
<line x1="323.50" y1="189.60" x2="485.50" y2="189.60" stroke="#000" stroke-width="2" stroke-linecap="butt"/>
<line x1="484.50" y1="189.60" x2="484.50" y2="325.00" stroke="#000" stroke-width="2" stroke-linecap="butt"/>
<line x1="323.50" y1="324.00" x2="485.50" y2="324.00" stroke="#000" stroke-width="2" stroke-linecap="butt"/>
<line x1="378.30" y1="191.10" x2="378.30" y2="323.00" stroke="#000" stroke-width="1.8" stroke-linecap="butt" stroke-dasharray="9.6 2.3"/>
<line x1="434.20" y1="191.10" x2="434.20" y2="323.00" stroke="#000" stroke-width="1.8" stroke-linecap="butt" stroke-dasharray="9.6 2.3"/>
<line x1="327.50" y1="189.60" x2="327.50" y2="253.30" stroke="#000" stroke-width="2" stroke-linecap="butt"/>
<line x1="325.50" y1="253.30" x2="329.00" y2="253.30" stroke="#000" stroke-width="1.2" stroke-linecap="butt"/>
<line x1="327.50" y1="260.50" x2="327.50" y2="324.00" stroke="#000" stroke-width="2" stroke-linecap="butt"/>
<line x1="323.50" y1="260.60" x2="330.50" y2="260.60" stroke="#000" stroke-width="1.6" stroke-linecap="butt"/>
<text x="320.90" y="192.50" font-size="8.2" text-anchor="end" fill="#222" stroke="#222" stroke-width="0.22">100</text>
<line x1="323.50" y1="189.60" x2="327.50" y2="189.60" stroke="#000" stroke-width="2" stroke-linecap="butt"/>
<text x="320.90" y="205.00" font-size="8.2" text-anchor="end" fill="#222" stroke="#222" stroke-width="0.22">80</text>
<line x1="323.50" y1="202.10" x2="327.50" y2="202.10" stroke="#000" stroke-width="2" stroke-linecap="butt"/>
<text x="320.90" y="218.10" font-size="8.2" text-anchor="end" fill="#222" stroke="#222" stroke-width="0.22">60</text>
<line x1="323.50" y1="215.20" x2="327.50" y2="215.20" stroke="#000" stroke-width="2" stroke-linecap="butt"/>
<text x="320.90" y="231.20" font-size="8.2" text-anchor="end" fill="#222" stroke="#222" stroke-width="0.22">40</text>
<line x1="323.50" y1="228.30" x2="327.50" y2="228.30" stroke="#000" stroke-width="2" stroke-linecap="butt"/>
<text x="320.90" y="243.80" font-size="8.2" text-anchor="end" fill="#222" stroke="#222" stroke-width="0.22">20</text>
<line x1="323.50" y1="240.90" x2="327.50" y2="240.90" stroke="#000" stroke-width="2" stroke-linecap="butt"/>
<text x="320.90" y="264.40" font-size="8.2" text-anchor="end" fill="#222" stroke="#222" stroke-width="0.22">1.0</text>
<line x1="323.50" y1="261.50" x2="327.50" y2="261.50" stroke="#000" stroke-width="2" stroke-linecap="butt"/>
<text x="320.90" y="277.10" font-size="8.2" text-anchor="end" fill="#222" stroke="#222" stroke-width="0.22">0.8</text>
<line x1="323.50" y1="274.20" x2="327.50" y2="274.20" stroke="#000" stroke-width="2" stroke-linecap="butt"/>
<text x="320.90" y="289.50" font-size="8.2" text-anchor="end" fill="#222" stroke="#222" stroke-width="0.22">0.6</text>
<line x1="323.50" y1="286.60" x2="327.50" y2="286.60" stroke="#000" stroke-width="2" stroke-linecap="butt"/>
<text x="320.90" y="302.00" font-size="8.2" text-anchor="end" fill="#222" stroke="#222" stroke-width="0.22">0.4</text>
<line x1="323.50" y1="299.10" x2="327.50" y2="299.10" stroke="#000" stroke-width="2" stroke-linecap="butt"/>
<text x="320.90" y="314.70" font-size="8.2" text-anchor="end" fill="#222" stroke="#222" stroke-width="0.22">0.2</text>
<line x1="323.50" y1="311.80" x2="327.50" y2="311.80" stroke="#000" stroke-width="2" stroke-linecap="butt"/>
<text x="320.90" y="327.10" font-size="8.2" text-anchor="end" fill="#222" stroke="#222" stroke-width="0.22">0.0</text>
<line x1="323.50" y1="324.20" x2="327.50" y2="324.20" stroke="#000" stroke-width="2" stroke-linecap="butt"/>
<line x1="332.90" y1="324.00" x2="332.90" y2="327.50" stroke="#000" stroke-width="1.6" stroke-linecap="butt"/>
<text x="332.90" y="336.80" font-size="8.4" text-anchor="middle" fill="#222" stroke="#222" stroke-width="0.22">77</text>
<line x1="344.30" y1="324.00" x2="344.30" y2="327.50" stroke="#000" stroke-width="1.6" stroke-linecap="butt"/>
<text x="344.30" y="336.80" font-size="8.4" text-anchor="middle" fill="#222" stroke="#222" stroke-width="0.22">50</text>
<line x1="355.40" y1="324.00" x2="355.40" y2="327.50" stroke="#000" stroke-width="1.6" stroke-linecap="butt"/>
<text x="355.40" y="336.80" font-size="8.4" text-anchor="middle" fill="#222" stroke="#222" stroke-width="0.22">25</text>
<line x1="366.70" y1="324.00" x2="366.70" y2="327.50" stroke="#000" stroke-width="1.6" stroke-linecap="butt"/>
<text x="366.70" y="336.80" font-size="8.4" text-anchor="middle" fill="#222" stroke="#222" stroke-width="0.22">9</text>
<line x1="388.90" y1="324.00" x2="388.90" y2="327.50" stroke="#000" stroke-width="1.6" stroke-linecap="butt"/>
<text x="388.90" y="336.80" font-size="8.4" text-anchor="middle" fill="#222" stroke="#222" stroke-width="0.22">77</text>
<line x1="400.10" y1="324.00" x2="400.10" y2="327.50" stroke="#000" stroke-width="1.6" stroke-linecap="butt"/>
<text x="400.10" y="336.80" font-size="8.4" text-anchor="middle" fill="#222" stroke="#222" stroke-width="0.22">50</text>
<line x1="411.40" y1="324.00" x2="411.40" y2="327.50" stroke="#000" stroke-width="1.6" stroke-linecap="butt"/>
<text x="411.40" y="336.80" font-size="8.4" text-anchor="middle" fill="#222" stroke="#222" stroke-width="0.22">25</text>
<line x1="422.60" y1="324.00" x2="422.60" y2="327.50" stroke="#000" stroke-width="1.6" stroke-linecap="butt"/>
<text x="422.60" y="336.80" font-size="8.4" text-anchor="middle" fill="#222" stroke="#222" stroke-width="0.22">9</text>
<line x1="445.20" y1="324.00" x2="445.20" y2="327.50" stroke="#000" stroke-width="1.6" stroke-linecap="butt"/>
<text x="445.20" y="336.80" font-size="8.4" text-anchor="middle" fill="#222" stroke="#222" stroke-width="0.22">77</text>
<line x1="456.50" y1="324.00" x2="456.50" y2="327.50" stroke="#000" stroke-width="1.6" stroke-linecap="butt"/>
<text x="456.50" y="336.80" font-size="8.4" text-anchor="middle" fill="#222" stroke="#222" stroke-width="0.22">50</text>
<line x1="467.70" y1="324.00" x2="467.70" y2="327.50" stroke="#000" stroke-width="1.6" stroke-linecap="butt"/>
<text x="467.70" y="336.80" font-size="8.4" text-anchor="middle" fill="#222" stroke="#222" stroke-width="0.22">25</text>
<line x1="479.10" y1="324.00" x2="479.10" y2="327.50" stroke="#000" stroke-width="1.6" stroke-linecap="butt"/>
<text x="479.10" y="336.80" font-size="8.4" text-anchor="middle" fill="#222" stroke="#222" stroke-width="0.22">9</text>
<text x="411.30" y="354.20" font-size="10.45" text-anchor="middle" fill="#222" stroke="#222" stroke-width="0.22">% expected donor contribution</text>
<text transform="translate(298.00,256.00) rotate(-90)" x="0" y="0" font-size="9.85" text-anchor="middle" fill="#222" stroke="#222" stroke-width="0.22">% measured donor contribution</text>
<circle cx="332.90" cy="200.60" r="3.35" fill="#2ae02a" stroke="#0b3d0b" stroke-width="1.15"/>
<circle cx="332.90" cy="207.50" r="3.35" fill="#2ae02a" stroke="#0b3d0b" stroke-width="1.15"/>
<circle cx="332.90" cy="211.00" r="3.35" fill="#2ae02a" stroke="#0b3d0b" stroke-width="1.15"/>
<circle cx="332.90" cy="241.00" r="3.30" fill="#fbfff4" stroke="#4ae446" stroke-width="1.5"/>
<circle cx="332.90" cy="245.00" r="3.30" fill="#fbfff4" stroke="#4ae446" stroke-width="1.5"/>
<circle cx="332.90" cy="249.60" r="3.30" fill="#fbfff4" stroke="#4ae446" stroke-width="1.5"/>
<circle cx="332.90" cy="307.10" r="3.30" fill="#fbfff4" stroke="#4ae446" stroke-width="1.5"/>
<circle cx="332.90" cy="322.70" r="3.30" fill="#fbfff4" stroke="#4ae446" stroke-width="1.5"/>
<circle cx="344.30" cy="200.60" r="3.35" fill="#2ae02a" stroke="#0b3d0b" stroke-width="1.15"/>
<circle cx="344.30" cy="204.00" r="3.35" fill="#2ae02a" stroke="#0b3d0b" stroke-width="1.15"/>
<circle cx="344.30" cy="208.10" r="3.35" fill="#2ae02a" stroke="#0b3d0b" stroke-width="1.15"/>
<circle cx="344.30" cy="236.90" r="3.35" fill="#2ae02a" stroke="#0b3d0b" stroke-width="1.15"/>
<circle cx="344.30" cy="251.30" r="3.30" fill="#fbfff4" stroke="#4ae446" stroke-width="1.5"/>
<circle cx="344.30" cy="253.50" r="3.30" fill="#fbfff4" stroke="#4ae446" stroke-width="1.5"/>
<circle cx="344.30" cy="272.50" r="3.30" fill="#fbfff4" stroke="#4ae446" stroke-width="1.5"/>
<circle cx="344.30" cy="274.20" r="3.30" fill="#fbfff4" stroke="#4ae446" stroke-width="1.5"/>
<circle cx="344.30" cy="285.80" r="3.30" fill="#fbfff4" stroke="#4ae446" stroke-width="1.5"/>
<circle cx="344.30" cy="287.50" r="3.30" fill="#fbfff4" stroke="#4ae446" stroke-width="1.5"/>
<circle cx="355.40" cy="202.30" r="3.35" fill="#2ae02a" stroke="#0b3d0b" stroke-width="1.15"/>
<circle cx="355.40" cy="206.90" r="3.35" fill="#2ae02a" stroke="#0b3d0b" stroke-width="1.15"/>
<circle cx="355.40" cy="215.60" r="3.35" fill="#2ae02a" stroke="#0b3d0b" stroke-width="1.15"/>
<circle cx="355.40" cy="220.20" r="3.35" fill="#2ae02a" stroke="#0b3d0b" stroke-width="1.15"/>
<circle cx="355.40" cy="246.20" r="3.30" fill="#fbfff4" stroke="#4ae446" stroke-width="1.5"/>
<circle cx="355.40" cy="249.80" r="3.30" fill="#fbfff4" stroke="#4ae446" stroke-width="1.5"/>
<circle cx="355.40" cy="267.30" r="3.30" fill="#fbfff4" stroke="#4ae446" stroke-width="1.5"/>
<circle cx="355.40" cy="323.30" r="3.30" fill="#fbfff4" stroke="#4ae446" stroke-width="1.5"/>
<circle cx="366.70" cy="197.10" r="3.35" fill="#2ae02a" stroke="#0b3d0b" stroke-width="1.15"/>
<circle cx="366.70" cy="202.30" r="3.35" fill="#2ae02a" stroke="#0b3d0b" stroke-width="1.15"/>
<circle cx="366.70" cy="205.80" r="3.35" fill="#2ae02a" stroke="#0b3d0b" stroke-width="1.15"/>
<circle cx="366.70" cy="209.20" r="3.35" fill="#2ae02a" stroke="#0b3d0b" stroke-width="1.15"/>
<circle cx="366.70" cy="223.70" r="3.35" fill="#2ae02a" stroke="#0b3d0b" stroke-width="1.15"/>
<circle cx="366.70" cy="249.60" r="3.30" fill="#fbfff4" stroke="#4ae446" stroke-width="1.5"/>
<circle cx="366.70" cy="253.50" r="3.30" fill="#fbfff4" stroke="#4ae446" stroke-width="1.5"/>
<circle cx="366.70" cy="293.80" r="3.30" fill="#fbfff4" stroke="#4ae446" stroke-width="1.5"/>
<circle cx="366.70" cy="318.00" r="3.30" fill="#fbfff4" stroke="#4ae446" stroke-width="1.5"/>
<circle cx="366.70" cy="322.10" r="3.30" fill="#fbfff4" stroke="#4ae446" stroke-width="1.5"/>
<circle cx="388.90" cy="195.40" r="3.35" fill="#2ae02a" stroke="#0b3d0b" stroke-width="1.15"/>
<circle cx="388.90" cy="197.70" r="3.35" fill="#2ae02a" stroke="#0b3d0b" stroke-width="1.15"/>
<circle cx="388.90" cy="226.00" r="3.35" fill="#2ae02a" stroke="#0b3d0b" stroke-width="1.15"/>
<circle cx="388.90" cy="248.50" r="3.30" fill="#fbfff4" stroke="#4ae446" stroke-width="1.5"/>
<circle cx="388.90" cy="252.50" r="3.30" fill="#fbfff4" stroke="#4ae446" stroke-width="1.5"/>
<circle cx="388.90" cy="270.80" r="3.30" fill="#fbfff4" stroke="#4ae446" stroke-width="1.5"/>
<circle cx="388.90" cy="320.40" r="3.30" fill="#fbfff4" stroke="#4ae446" stroke-width="1.5"/>
<circle cx="400.10" cy="194.80" r="3.35" fill="#2ae02a" stroke="#0b3d0b" stroke-width="1.15"/>
<circle cx="400.10" cy="209.20" r="3.35" fill="#2ae02a" stroke="#0b3d0b" stroke-width="1.15"/>
<circle cx="400.10" cy="221.30" r="3.35" fill="#2ae02a" stroke="#0b3d0b" stroke-width="1.15"/>
<circle cx="400.10" cy="224.80" r="3.35" fill="#2ae02a" stroke="#0b3d0b" stroke-width="1.15"/>
<circle cx="400.10" cy="227.70" r="3.35" fill="#2ae02a" stroke="#0b3d0b" stroke-width="1.15"/>
<circle cx="400.10" cy="243.80" r="3.30" fill="#fbfff4" stroke="#4ae446" stroke-width="1.5"/>
<circle cx="400.10" cy="299.60" r="3.30" fill="#fbfff4" stroke="#4ae446" stroke-width="1.5"/>
<circle cx="400.10" cy="309.40" r="3.30" fill="#fbfff4" stroke="#4ae446" stroke-width="1.5"/>
<circle cx="400.10" cy="315.80" r="3.30" fill="#fbfff4" stroke="#4ae446" stroke-width="1.5"/>
<circle cx="400.10" cy="321.50" r="3.30" fill="#fbfff4" stroke="#4ae446" stroke-width="1.5"/>
<circle cx="411.40" cy="197.70" r="3.35" fill="#2ae02a" stroke="#0b3d0b" stroke-width="1.15"/>
<circle cx="411.40" cy="221.90" r="3.35" fill="#2ae02a" stroke="#0b3d0b" stroke-width="1.15"/>
<circle cx="411.40" cy="224.80" r="3.35" fill="#2ae02a" stroke="#0b3d0b" stroke-width="1.15"/>
<circle cx="411.40" cy="252.50" r="3.30" fill="#fbfff4" stroke="#4ae446" stroke-width="1.5"/>
<circle cx="411.40" cy="304.20" r="3.30" fill="#fbfff4" stroke="#4ae446" stroke-width="1.5"/>
<circle cx="411.40" cy="322.70" r="3.30" fill="#fbfff4" stroke="#4ae446" stroke-width="1.5"/>
<circle cx="422.60" cy="194.20" r="3.35" fill="#2ae02a" stroke="#0b3d0b" stroke-width="1.15"/>
<circle cx="422.60" cy="197.70" r="3.35" fill="#2ae02a" stroke="#0b3d0b" stroke-width="1.15"/>
<circle cx="422.60" cy="200.60" r="3.35" fill="#2ae02a" stroke="#0b3d0b" stroke-width="1.15"/>
<circle cx="422.60" cy="221.30" r="3.35" fill="#2ae02a" stroke="#0b3d0b" stroke-width="1.15"/>
<circle cx="422.60" cy="224.20" r="3.35" fill="#2ae02a" stroke="#0b3d0b" stroke-width="1.15"/>
<circle cx="422.60" cy="227.10" r="3.35" fill="#2ae02a" stroke="#0b3d0b" stroke-width="1.15"/>
<circle cx="422.60" cy="235.20" r="3.35" fill="#2ae02a" stroke="#0b3d0b" stroke-width="1.15"/>
<circle cx="422.60" cy="252.50" r="3.30" fill="#fbfff4" stroke="#4ae446" stroke-width="1.5"/>
<circle cx="422.60" cy="303.10" r="3.30" fill="#fbfff4" stroke="#4ae446" stroke-width="1.5"/>
<circle cx="422.60" cy="305.40" r="3.30" fill="#fbfff4" stroke="#4ae446" stroke-width="1.5"/>
<circle cx="422.60" cy="307.70" r="3.30" fill="#fbfff4" stroke="#4ae446" stroke-width="1.5"/>
<circle cx="422.60" cy="322.10" r="3.30" fill="#fbfff4" stroke="#4ae446" stroke-width="1.5"/>
<circle cx="445.20" cy="193.70" r="3.35" fill="#2ae02a" stroke="#0b3d0b" stroke-width="1.15"/>
<circle cx="445.20" cy="198.30" r="3.35" fill="#2ae02a" stroke="#0b3d0b" stroke-width="1.15"/>
<circle cx="445.20" cy="201.70" r="3.35" fill="#2ae02a" stroke="#0b3d0b" stroke-width="1.15"/>
<circle cx="445.20" cy="247.90" r="3.30" fill="#fbfff4" stroke="#4ae446" stroke-width="1.5"/>
<circle cx="445.20" cy="251.90" r="3.30" fill="#fbfff4" stroke="#4ae446" stroke-width="1.5"/>
<circle cx="445.20" cy="271.90" r="3.30" fill="#fbfff4" stroke="#4ae446" stroke-width="1.5"/>
<circle cx="445.20" cy="278.80" r="3.30" fill="#fbfff4" stroke="#4ae446" stroke-width="1.5"/>
<circle cx="445.20" cy="322.10" r="3.30" fill="#fbfff4" stroke="#4ae446" stroke-width="1.5"/>
<circle cx="456.50" cy="192.50" r="3.35" fill="#2ae02a" stroke="#0b3d0b" stroke-width="1.15"/>
<circle cx="456.50" cy="197.10" r="3.35" fill="#2ae02a" stroke="#0b3d0b" stroke-width="1.15"/>
<circle cx="456.50" cy="202.90" r="3.35" fill="#2ae02a" stroke="#0b3d0b" stroke-width="1.15"/>
<circle cx="456.50" cy="234.00" r="3.30" fill="#fbfff4" stroke="#4ae446" stroke-width="1.5"/>
<circle cx="456.50" cy="314.60" r="3.30" fill="#fbfff4" stroke="#4ae446" stroke-width="1.5"/>
<circle cx="456.50" cy="319.20" r="3.30" fill="#fbfff4" stroke="#4ae446" stroke-width="1.5"/>
<circle cx="456.50" cy="322.10" r="3.30" fill="#fbfff4" stroke="#4ae446" stroke-width="1.5"/>
<circle cx="467.70" cy="196.00" r="3.35" fill="#2ae02a" stroke="#0b3d0b" stroke-width="1.15"/>
<circle cx="467.70" cy="200.00" r="3.35" fill="#2ae02a" stroke="#0b3d0b" stroke-width="1.15"/>
<circle cx="467.70" cy="251.90" r="3.30" fill="#fbfff4" stroke="#4ae446" stroke-width="1.5"/>
<circle cx="467.70" cy="277.70" r="3.30" fill="#fbfff4" stroke="#4ae446" stroke-width="1.5"/>
<circle cx="467.70" cy="304.20" r="3.30" fill="#fbfff4" stroke="#4ae446" stroke-width="1.5"/>
<circle cx="467.70" cy="321.50" r="3.30" fill="#fbfff4" stroke="#4ae446" stroke-width="1.5"/>
<circle cx="479.10" cy="194.20" r="3.35" fill="#2ae02a" stroke="#0b3d0b" stroke-width="1.15"/>
<circle cx="479.10" cy="198.80" r="3.35" fill="#2ae02a" stroke="#0b3d0b" stroke-width="1.15"/>
<circle cx="479.10" cy="289.80" r="3.30" fill="#fbfff4" stroke="#4ae446" stroke-width="1.5"/>
<circle cx="479.10" cy="318.00" r="3.30" fill="#fbfff4" stroke="#4ae446" stroke-width="1.5"/>
<circle cx="479.10" cy="320.40" r="3.30" fill="#fbfff4" stroke="#4ae446" stroke-width="1.5"/>
<text transform="translate(503.0,279.6) rotate(-90)" font-size="10.6" fill="#222" stroke="#222" stroke-width="0.22">CD150<tspan dx="0.8" dy="-5" font-size="8">+</tspan><tspan dx="0.6" dy="5">CD48</tspan><tspan dy="-5" font-size="8.5">-</tspan><tspan dx="0.3" dy="5">LSK</tspan></text>
<text transform="translate(517.3,279.6) rotate(-90)" font-size="10.6" fill="#222" stroke="#222" stroke-width="0.22">CD150<tspan dx="0.8" dy="-5" font-size="8">+</tspan><tspan dx="0.6" dy="5">CD48</tspan><tspan dy="-5" font-size="8">+</tspan><tspan dx="0.3" dy="5">LSK</tspan></text>
<circle cx="499.60" cy="290.70" r="3.60" fill="#2ae02a" stroke="#0b3d0b" stroke-width="1.15"/>
<circle cx="514.10" cy="290.70" r="3.60" fill="#fbfff4" stroke="#4ae446" stroke-width="1.5"/>
<text x="33.30" y="381.30" font-size="12.6" text-anchor="start" fill="#000" font-weight="bold">E</text>
<text x="121.30" y="374.30" font-size="12.2" text-anchor="middle" fill="#222" stroke="#222" stroke-width="0.22">endosteal</text>
<text x="121.2" y="388.3" font-size="12.6" text-anchor="middle" fill="#222" stroke="#222" stroke-width="0.22">CD150<tspan dx="1.2" dy="-6" font-size="9">+</tspan><tspan dx="0.9" dy="6">CD48</tspan><tspan dy="-6" font-size="10">-</tspan><tspan dy="6">LSK</tspan></text>
<text x="67.50" y="399.00" font-size="10.3" text-anchor="middle" fill="#222" stroke="#222" stroke-width="0.22">5 weeks</text>
<text x="116.00" y="399.00" font-size="10.3" text-anchor="middle" fill="#222" stroke="#222" stroke-width="0.22">12 weeks</text>
<text x="172.90" y="399.00" font-size="10.3" text-anchor="middle" fill="#222" stroke="#222" stroke-width="0.22">20 weeks</text>
<line x1="36.30" y1="403.30" x2="198.30" y2="403.30" stroke="#000" stroke-width="2" stroke-linecap="butt"/>
<line x1="197.30" y1="403.30" x2="197.30" y2="538.60" stroke="#000" stroke-width="2" stroke-linecap="butt"/>
<line x1="40.30" y1="403.30" x2="40.30" y2="537.60" stroke="#000" stroke-width="2" stroke-linecap="butt"/>
<line x1="36.30" y1="537.60" x2="198.30" y2="537.60" stroke="#000" stroke-width="2" stroke-linecap="butt"/>
<line x1="90.50" y1="404.80" x2="90.50" y2="536.60" stroke="#000" stroke-width="1.4" stroke-linecap="butt" stroke-dasharray="10 2"/>
<line x1="146.60" y1="404.80" x2="146.60" y2="536.60" stroke="#000" stroke-width="1.4" stroke-linecap="butt" stroke-dasharray="10 2"/>
<line x1="36.30" y1="403.30" x2="40.30" y2="403.30" stroke="#000" stroke-width="2" stroke-linecap="butt"/>
<text x="31.00" y="406.20" font-size="8.2" text-anchor="end" fill="#222" stroke="#222" stroke-width="0.22">100</text>
<line x1="36.30" y1="430.16" x2="40.30" y2="430.16" stroke="#000" stroke-width="2" stroke-linecap="butt"/>
<text x="31.00" y="433.06" font-size="8.2" text-anchor="end" fill="#222" stroke="#222" stroke-width="0.22">80</text>
<line x1="36.30" y1="457.02" x2="40.30" y2="457.02" stroke="#000" stroke-width="2" stroke-linecap="butt"/>
<text x="31.00" y="459.92" font-size="8.2" text-anchor="end" fill="#222" stroke="#222" stroke-width="0.22">60</text>
<line x1="36.30" y1="483.88" x2="40.30" y2="483.88" stroke="#000" stroke-width="2" stroke-linecap="butt"/>
<text x="31.00" y="486.78" font-size="8.2" text-anchor="end" fill="#222" stroke="#222" stroke-width="0.22">40</text>
<line x1="36.30" y1="510.74" x2="40.30" y2="510.74" stroke="#000" stroke-width="2" stroke-linecap="butt"/>
<text x="31.00" y="513.64" font-size="8.2" text-anchor="end" fill="#222" stroke="#222" stroke-width="0.22">20</text>
<text x="29.50" y="540.50" font-size="8.2" text-anchor="end" fill="#222" stroke="#222" stroke-width="0.22">0</text>
<line x1="45.70" y1="537.60" x2="45.70" y2="541.40" stroke="#000" stroke-width="1.6" stroke-linecap="butt"/>
<text transform="translate(48.40,546.40) rotate(-90)" font-size="8.5" text-anchor="end" fill="#1a1a1a" stroke="#1a1a1a" stroke-width="0.22">500</text>
<line x1="57.10" y1="537.60" x2="57.10" y2="541.40" stroke="#000" stroke-width="1.6" stroke-linecap="butt"/>
<text transform="translate(59.80,546.40) rotate(-90)" font-size="8.5" text-anchor="end" fill="#1a1a1a" stroke="#1a1a1a" stroke-width="0.22">200</text>
<line x1="68.20" y1="537.60" x2="68.20" y2="541.40" stroke="#000" stroke-width="1.6" stroke-linecap="butt"/>
<text transform="translate(70.90,546.40) rotate(-90)" font-size="8.5" text-anchor="end" fill="#1a1a1a" stroke="#1a1a1a" stroke-width="0.22">100</text>
<line x1="79.50" y1="537.60" x2="79.50" y2="541.40" stroke="#000" stroke-width="1.6" stroke-linecap="butt"/>
<text transform="translate(82.20,546.40) rotate(-90)" font-size="8.5" text-anchor="end" fill="#1a1a1a" stroke="#1a1a1a" stroke-width="0.22">20</text>
<line x1="101.70" y1="537.60" x2="101.70" y2="541.40" stroke="#000" stroke-width="1.6" stroke-linecap="butt"/>
<text transform="translate(104.40,546.40) rotate(-90)" font-size="8.5" text-anchor="end" fill="#1a1a1a" stroke="#1a1a1a" stroke-width="0.22">500</text>
<line x1="112.90" y1="537.60" x2="112.90" y2="541.40" stroke="#000" stroke-width="1.6" stroke-linecap="butt"/>
<text transform="translate(115.60,546.40) rotate(-90)" font-size="8.5" text-anchor="end" fill="#1a1a1a" stroke="#1a1a1a" stroke-width="0.22">200</text>
<line x1="124.20" y1="537.60" x2="124.20" y2="541.40" stroke="#000" stroke-width="1.6" stroke-linecap="butt"/>
<text transform="translate(126.90,546.40) rotate(-90)" font-size="8.5" text-anchor="end" fill="#1a1a1a" stroke="#1a1a1a" stroke-width="0.22">100</text>
<line x1="135.40" y1="537.60" x2="135.40" y2="541.40" stroke="#000" stroke-width="1.6" stroke-linecap="butt"/>
<text transform="translate(138.10,546.40) rotate(-90)" font-size="8.5" text-anchor="end" fill="#1a1a1a" stroke="#1a1a1a" stroke-width="0.22">20</text>
<line x1="158.00" y1="537.60" x2="158.00" y2="541.40" stroke="#000" stroke-width="1.6" stroke-linecap="butt"/>
<text transform="translate(160.70,546.40) rotate(-90)" font-size="8.5" text-anchor="end" fill="#1a1a1a" stroke="#1a1a1a" stroke-width="0.22">500</text>
<line x1="169.30" y1="537.60" x2="169.30" y2="541.40" stroke="#000" stroke-width="1.6" stroke-linecap="butt"/>
<text transform="translate(172.00,546.40) rotate(-90)" font-size="8.5" text-anchor="end" fill="#1a1a1a" stroke="#1a1a1a" stroke-width="0.22">200</text>
<line x1="180.50" y1="537.60" x2="180.50" y2="541.40" stroke="#000" stroke-width="1.6" stroke-linecap="butt"/>
<text transform="translate(183.20,546.40) rotate(-90)" font-size="8.5" text-anchor="end" fill="#1a1a1a" stroke="#1a1a1a" stroke-width="0.22">100</text>
<line x1="191.90" y1="537.60" x2="191.90" y2="541.40" stroke="#000" stroke-width="1.6" stroke-linecap="butt"/>
<text transform="translate(194.60,546.40) rotate(-90)" font-size="8.5" text-anchor="end" fill="#1a1a1a" stroke="#1a1a1a" stroke-width="0.22">20</text>
<text x="113.50" y="570.70" font-size="10.35" text-anchor="middle" fill="#222" stroke="#222" stroke-width="0.22">cell dose</text>
<text transform="translate(12.80,467.40) rotate(-90)" x="0" y="0" font-size="10.25" text-anchor="middle" fill="#222" stroke="#222" stroke-width="0.22">% of cell lineage</text>
<circle cx="45.70" cy="521.70" r="3.40" fill="#1212d8" stroke="#000030" stroke-width="1.15"/>
<circle cx="45.70" cy="491.20" r="3.40" fill="#f01414" stroke="#3a0000" stroke-width="1.15"/>
<circle cx="45.70" cy="513.10" r="3.40" fill="#f01414" stroke="#3a0000" stroke-width="1.15"/>
<circle cx="45.70" cy="466.50" r="3.40" fill="#1ef01e" stroke="#052a05" stroke-width="1.15"/>
<circle cx="45.70" cy="472.10" r="3.40" fill="#1ef01e" stroke="#052a05" stroke-width="1.15"/>
<circle cx="45.70" cy="486.00" r="3.40" fill="#1ef01e" stroke="#052a05" stroke-width="1.15"/>
<circle cx="57.10" cy="512.50" r="3.40" fill="#1212d8" stroke="#000030" stroke-width="1.15"/>
<circle cx="57.10" cy="531.00" r="3.40" fill="#1212d8" stroke="#000030" stroke-width="1.15"/>
<circle cx="57.10" cy="488.80" r="3.40" fill="#f01414" stroke="#3a0000" stroke-width="1.15"/>
<circle cx="57.10" cy="491.20" r="3.40" fill="#f01414" stroke="#3a0000" stroke-width="1.15"/>
<circle cx="57.10" cy="503.30" r="3.40" fill="#f01414" stroke="#3a0000" stroke-width="1.15"/>
<circle cx="57.10" cy="518.80" r="3.40" fill="#f01414" stroke="#3a0000" stroke-width="1.15"/>
<circle cx="57.10" cy="522.30" r="3.40" fill="#f01414" stroke="#3a0000" stroke-width="1.15"/>
<circle cx="57.10" cy="524.60" r="3.40" fill="#f01414" stroke="#3a0000" stroke-width="1.15"/>
<circle cx="57.10" cy="532.70" r="3.40" fill="#f01414" stroke="#3a0000" stroke-width="1.15"/>
<circle cx="57.10" cy="417.60" r="3.40" fill="#1ef01e" stroke="#052a05" stroke-width="1.15"/>
<circle cx="57.10" cy="425.50" r="3.40" fill="#1ef01e" stroke="#052a05" stroke-width="1.15"/>
<circle cx="57.10" cy="436.10" r="3.40" fill="#1ef01e" stroke="#052a05" stroke-width="1.15"/>
<circle cx="57.10" cy="439.50" r="3.40" fill="#1ef01e" stroke="#052a05" stroke-width="1.15"/>
<circle cx="57.10" cy="459.90" r="3.40" fill="#1ef01e" stroke="#052a05" stroke-width="1.15"/>
<circle cx="57.10" cy="467.30" r="3.40" fill="#1ef01e" stroke="#052a05" stroke-width="1.15"/>
<circle cx="57.10" cy="484.20" r="3.40" fill="#1ef01e" stroke="#052a05" stroke-width="1.15"/>
<circle cx="68.20" cy="522.90" r="3.40" fill="#1212d8" stroke="#000030" stroke-width="1.15"/>
<circle cx="68.20" cy="529.80" r="3.40" fill="#1212d8" stroke="#000030" stroke-width="1.15"/>
<circle cx="68.20" cy="480.20" r="3.40" fill="#f01414" stroke="#3a0000" stroke-width="1.15"/>
<circle cx="68.20" cy="493.50" r="3.40" fill="#f01414" stroke="#3a0000" stroke-width="1.15"/>
<circle cx="68.20" cy="497.50" r="3.40" fill="#f01414" stroke="#3a0000" stroke-width="1.15"/>
<circle cx="68.20" cy="517.70" r="3.40" fill="#f01414" stroke="#3a0000" stroke-width="1.15"/>
<circle cx="68.20" cy="532.70" r="3.40" fill="#f01414" stroke="#3a0000" stroke-width="1.15"/>
<circle cx="68.20" cy="441.30" r="3.40" fill="#1ef01e" stroke="#052a05" stroke-width="1.15"/>
<circle cx="68.20" cy="444.20" r="3.40" fill="#1ef01e" stroke="#052a05" stroke-width="1.15"/>
<circle cx="68.20" cy="462.50" r="3.40" fill="#1ef01e" stroke="#052a05" stroke-width="1.15"/>
<circle cx="68.20" cy="467.00" r="3.40" fill="#1ef01e" stroke="#052a05" stroke-width="1.15"/>
<circle cx="68.20" cy="471.50" r="3.40" fill="#1ef01e" stroke="#052a05" stroke-width="1.15"/>
<circle cx="68.20" cy="511.30" r="3.40" fill="#1ef01e" stroke="#052a05" stroke-width="1.15"/>
<circle cx="79.50" cy="535.00" r="3.40" fill="#1212d8" stroke="#000030" stroke-width="1.15"/>
<circle cx="79.50" cy="486.00" r="3.40" fill="#f01414" stroke="#3a0000" stroke-width="1.15"/>
<circle cx="79.50" cy="494.60" r="3.40" fill="#f01414" stroke="#3a0000" stroke-width="1.15"/>
<circle cx="79.50" cy="499.20" r="3.40" fill="#f01414" stroke="#3a0000" stroke-width="1.15"/>
<circle cx="79.50" cy="504.40" r="3.40" fill="#f01414" stroke="#3a0000" stroke-width="1.15"/>
<circle cx="79.50" cy="524.00" r="3.40" fill="#f01414" stroke="#3a0000" stroke-width="1.15"/>
<circle cx="79.50" cy="531.00" r="3.40" fill="#f01414" stroke="#3a0000" stroke-width="1.15"/>
<circle cx="79.50" cy="417.80" r="3.40" fill="#1ef01e" stroke="#052a05" stroke-width="1.15"/>
<circle cx="79.50" cy="425.50" r="3.40" fill="#1ef01e" stroke="#052a05" stroke-width="1.15"/>
<circle cx="79.50" cy="453.40" r="3.40" fill="#1ef01e" stroke="#052a05" stroke-width="1.15"/>
<circle cx="79.50" cy="465.30" r="3.40" fill="#1ef01e" stroke="#052a05" stroke-width="1.15"/>
<circle cx="79.50" cy="471.50" r="3.40" fill="#1ef01e" stroke="#052a05" stroke-width="1.15"/>
<circle cx="79.50" cy="477.90" r="3.40" fill="#1ef01e" stroke="#052a05" stroke-width="1.15"/>
<circle cx="101.70" cy="513.70" r="3.40" fill="#1212d8" stroke="#000030" stroke-width="1.15"/>
<circle cx="101.70" cy="524.00" r="3.40" fill="#1212d8" stroke="#000030" stroke-width="1.15"/>
<circle cx="101.70" cy="450.80" r="3.40" fill="#f01414" stroke="#3a0000" stroke-width="1.15"/>
<circle cx="101.70" cy="488.30" r="3.40" fill="#f01414" stroke="#3a0000" stroke-width="1.15"/>
<circle cx="101.70" cy="492.90" r="3.40" fill="#f01414" stroke="#3a0000" stroke-width="1.15"/>
<circle cx="101.70" cy="501.00" r="3.40" fill="#f01414" stroke="#3a0000" stroke-width="1.15"/>
<circle cx="101.70" cy="507.90" r="3.40" fill="#1ef01e" stroke="#052a05" stroke-width="1.15"/>
<circle cx="101.70" cy="516.50" r="3.40" fill="#1ef01e" stroke="#052a05" stroke-width="1.15"/>
<circle cx="101.70" cy="521.20" r="3.40" fill="#1ef01e" stroke="#052a05" stroke-width="1.15"/>
<circle cx="101.70" cy="527.50" r="3.40" fill="#1ef01e" stroke="#052a05" stroke-width="1.15"/>
<circle cx="112.90" cy="516.50" r="3.40" fill="#1212d8" stroke="#000030" stroke-width="1.15"/>
<circle cx="112.90" cy="520.00" r="3.40" fill="#1212d8" stroke="#000030" stroke-width="1.15"/>
<circle cx="112.90" cy="455.50" r="3.40" fill="#f01414" stroke="#3a0000" stroke-width="1.15"/>
<circle cx="112.90" cy="467.30" r="3.40" fill="#f01414" stroke="#3a0000" stroke-width="1.15"/>
<circle cx="112.90" cy="481.90" r="3.40" fill="#f01414" stroke="#3a0000" stroke-width="1.15"/>
<circle cx="112.90" cy="488.30" r="3.40" fill="#f01414" stroke="#3a0000" stroke-width="1.15"/>
<circle cx="112.90" cy="496.30" r="3.40" fill="#f01414" stroke="#3a0000" stroke-width="1.15"/>
<circle cx="112.90" cy="475.00" r="3.40" fill="#1ef01e" stroke="#052a05" stroke-width="1.15"/>
<circle cx="112.90" cy="504.40" r="3.40" fill="#1ef01e" stroke="#052a05" stroke-width="1.15"/>
<circle cx="112.90" cy="509.00" r="3.40" fill="#1ef01e" stroke="#052a05" stroke-width="1.15"/>
<circle cx="112.90" cy="527.50" r="3.40" fill="#1ef01e" stroke="#052a05" stroke-width="1.15"/>
<circle cx="112.90" cy="532.10" r="3.40" fill="#1ef01e" stroke="#052a05" stroke-width="1.15"/>
<circle cx="124.20" cy="459.50" r="3.40" fill="#f01414" stroke="#3a0000" stroke-width="1.15"/>
<circle cx="124.20" cy="469.00" r="3.40" fill="#f01414" stroke="#3a0000" stroke-width="1.15"/>
<circle cx="124.20" cy="479.00" r="3.40" fill="#f01414" stroke="#3a0000" stroke-width="1.15"/>
<circle cx="124.20" cy="483.70" r="3.40" fill="#f01414" stroke="#3a0000" stroke-width="1.15"/>
<circle cx="124.20" cy="488.30" r="3.40" fill="#f01414" stroke="#3a0000" stroke-width="1.15"/>
<circle cx="124.20" cy="502.10" r="3.40" fill="#f01414" stroke="#3a0000" stroke-width="1.15"/>
<circle cx="124.20" cy="498.10" r="3.40" fill="#1ef01e" stroke="#052a05" stroke-width="1.15"/>
<circle cx="124.20" cy="507.30" r="3.40" fill="#1ef01e" stroke="#052a05" stroke-width="1.15"/>
<circle cx="124.20" cy="511.90" r="3.40" fill="#1ef01e" stroke="#052a05" stroke-width="1.15"/>
<circle cx="124.20" cy="516.50" r="3.40" fill="#1ef01e" stroke="#052a05" stroke-width="1.15"/>
<circle cx="124.20" cy="518.80" r="3.40" fill="#1ef01e" stroke="#052a05" stroke-width="1.15"/>
<circle cx="124.20" cy="523.50" r="3.40" fill="#1ef01e" stroke="#052a05" stroke-width="1.15"/>
<circle cx="124.20" cy="528.10" r="3.40" fill="#1ef01e" stroke="#052a05" stroke-width="1.15"/>
<circle cx="135.40" cy="501.00" r="3.40" fill="#1212d8" stroke="#000030" stroke-width="1.15"/>
<circle cx="135.40" cy="462.00" r="3.40" fill="#f01414" stroke="#3a0000" stroke-width="1.15"/>
<circle cx="135.40" cy="466.80" r="3.40" fill="#f01414" stroke="#3a0000" stroke-width="1.15"/>
<circle cx="135.40" cy="481.30" r="3.40" fill="#f01414" stroke="#3a0000" stroke-width="1.15"/>
<circle cx="135.40" cy="486.00" r="3.40" fill="#f01414" stroke="#3a0000" stroke-width="1.15"/>
<circle cx="135.40" cy="490.60" r="3.40" fill="#f01414" stroke="#3a0000" stroke-width="1.15"/>
<circle cx="135.40" cy="505.00" r="3.40" fill="#f01414" stroke="#3a0000" stroke-width="1.15"/>
<circle cx="135.40" cy="476.20" r="3.40" fill="#1ef01e" stroke="#052a05" stroke-width="1.15"/>
<circle cx="135.40" cy="511.90" r="3.40" fill="#1ef01e" stroke="#052a05" stroke-width="1.15"/>
<circle cx="135.40" cy="517.70" r="3.40" fill="#1ef01e" stroke="#052a05" stroke-width="1.15"/>
<circle cx="135.40" cy="523.50" r="3.40" fill="#1ef01e" stroke="#052a05" stroke-width="1.15"/>
<circle cx="135.40" cy="528.70" r="3.40" fill="#1ef01e" stroke="#052a05" stroke-width="1.15"/>
<circle cx="158.00" cy="501.00" r="3.40" fill="#1212d8" stroke="#000030" stroke-width="1.15"/>
<circle cx="158.00" cy="514.00" r="3.40" fill="#1212d8" stroke="#000030" stroke-width="1.15"/>
<circle cx="158.00" cy="447.30" r="3.40" fill="#f01414" stroke="#3a0000" stroke-width="1.15"/>
<circle cx="158.00" cy="456.50" r="3.40" fill="#f01414" stroke="#3a0000" stroke-width="1.15"/>
<circle cx="158.00" cy="463.50" r="3.40" fill="#f01414" stroke="#3a0000" stroke-width="1.15"/>
<circle cx="158.00" cy="507.40" r="3.40" fill="#1ef01e" stroke="#052a05" stroke-width="1.15"/>
<circle cx="158.00" cy="518.00" r="3.40" fill="#1ef01e" stroke="#052a05" stroke-width="1.15"/>
<circle cx="158.00" cy="522.60" r="3.40" fill="#1ef01e" stroke="#052a05" stroke-width="1.15"/>
<circle cx="158.00" cy="527.90" r="3.40" fill="#1ef01e" stroke="#052a05" stroke-width="1.15"/>
<circle cx="169.30" cy="482.30" r="3.40" fill="#1212d8" stroke="#000030" stroke-width="1.15"/>
<circle cx="169.30" cy="485.60" r="3.40" fill="#1212d8" stroke="#000030" stroke-width="1.15"/>
<circle cx="169.30" cy="503.20" r="3.40" fill="#1212d8" stroke="#000030" stroke-width="1.15"/>
<circle cx="169.30" cy="456.50" r="3.40" fill="#f01414" stroke="#3a0000" stroke-width="1.15"/>
<circle cx="169.30" cy="459.80" r="3.40" fill="#f01414" stroke="#3a0000" stroke-width="1.15"/>
<circle cx="169.30" cy="463.80" r="3.40" fill="#f01414" stroke="#3a0000" stroke-width="1.15"/>
<circle cx="169.30" cy="467.10" r="3.40" fill="#f01414" stroke="#3a0000" stroke-width="1.15"/>
<circle cx="169.30" cy="475.00" r="3.40" fill="#f01414" stroke="#3a0000" stroke-width="1.15"/>
<circle cx="169.30" cy="493.50" r="3.40" fill="#1ef01e" stroke="#052a05" stroke-width="1.15"/>
<circle cx="169.30" cy="508.10" r="3.40" fill="#1ef01e" stroke="#052a05" stroke-width="1.15"/>
<circle cx="169.30" cy="511.40" r="3.40" fill="#1ef01e" stroke="#052a05" stroke-width="1.15"/>
<circle cx="169.30" cy="514.70" r="3.40" fill="#1ef01e" stroke="#052a05" stroke-width="1.15"/>
<circle cx="169.30" cy="518.60" r="3.40" fill="#1ef01e" stroke="#052a05" stroke-width="1.15"/>
<circle cx="169.30" cy="525.90" r="3.40" fill="#1ef01e" stroke="#052a05" stroke-width="1.15"/>
<circle cx="169.30" cy="530.50" r="3.40" fill="#1ef01e" stroke="#052a05" stroke-width="1.15"/>
<circle cx="180.50" cy="522.60" r="3.40" fill="#1212d8" stroke="#000030" stroke-width="1.15"/>
<circle cx="180.50" cy="448.60" r="3.40" fill="#f01414" stroke="#3a0000" stroke-width="1.15"/>
<circle cx="180.50" cy="453.20" r="3.40" fill="#f01414" stroke="#3a0000" stroke-width="1.15"/>
<circle cx="180.50" cy="461.80" r="3.40" fill="#f01414" stroke="#3a0000" stroke-width="1.15"/>
<circle cx="180.50" cy="468.40" r="3.40" fill="#f01414" stroke="#3a0000" stroke-width="1.15"/>
<circle cx="180.50" cy="471.10" r="3.40" fill="#f01414" stroke="#3a0000" stroke-width="1.15"/>
<circle cx="180.50" cy="475.00" r="3.40" fill="#f01414" stroke="#3a0000" stroke-width="1.15"/>
<circle cx="180.50" cy="490.20" r="3.40" fill="#f01414" stroke="#3a0000" stroke-width="1.15"/>
<circle cx="180.50" cy="486.30" r="3.40" fill="#1ef01e" stroke="#052a05" stroke-width="1.15"/>
<circle cx="180.50" cy="496.80" r="3.40" fill="#1ef01e" stroke="#052a05" stroke-width="1.15"/>
<circle cx="180.50" cy="512.00" r="3.40" fill="#1ef01e" stroke="#052a05" stroke-width="1.15"/>
<circle cx="180.50" cy="516.00" r="3.40" fill="#1ef01e" stroke="#052a05" stroke-width="1.15"/>
<circle cx="180.50" cy="526.60" r="3.40" fill="#1ef01e" stroke="#052a05" stroke-width="1.15"/>
<circle cx="191.90" cy="506.70" r="3.40" fill="#1212d8" stroke="#000030" stroke-width="1.15"/>
<circle cx="191.90" cy="510.00" r="3.40" fill="#1212d8" stroke="#000030" stroke-width="1.15"/>
<circle cx="191.90" cy="529.90" r="3.40" fill="#1212d8" stroke="#000030" stroke-width="1.15"/>
<circle cx="191.90" cy="452.60" r="3.40" fill="#f01414" stroke="#3a0000" stroke-width="1.15"/>
<circle cx="191.90" cy="456.50" r="3.40" fill="#f01414" stroke="#3a0000" stroke-width="1.15"/>
<circle cx="191.90" cy="462.50" r="3.40" fill="#f01414" stroke="#3a0000" stroke-width="1.15"/>
<circle cx="191.90" cy="471.10" r="3.40" fill="#f01414" stroke="#3a0000" stroke-width="1.15"/>
<circle cx="191.90" cy="488.20" r="3.40" fill="#f01414" stroke="#3a0000" stroke-width="1.15"/>
<circle cx="191.90" cy="500.10" r="3.40" fill="#1ef01e" stroke="#052a05" stroke-width="1.15"/>
<circle cx="191.90" cy="518.00" r="3.40" fill="#1ef01e" stroke="#052a05" stroke-width="1.15"/>
<circle cx="191.90" cy="523.90" r="3.40" fill="#1ef01e" stroke="#052a05" stroke-width="1.15"/>
<text transform="translate(213.00,491.00) rotate(-90)" x="0" y="0" font-size="10.15" text-anchor="start" fill="#222" stroke="#222" stroke-width="0.22">Gr-1/Mac-1</text>
<text transform="translate(227.50,491.00) rotate(-90)" x="0" y="0" font-size="10.15" text-anchor="start" fill="#222" stroke="#222" stroke-width="0.22">B220</text>
<text transform="translate(227.50,443.00) rotate(-90)" x="0" y="0" font-size="10.15" text-anchor="start" fill="#222" stroke="#222" stroke-width="0.22">CD3</text>
<circle cx="208.60" cy="498.60" r="3.60" fill="#1ef01e" stroke="#052a05" stroke-width="1.15"/>
<circle cx="223.70" cy="498.60" r="3.60" fill="#f01414" stroke="#3a0000" stroke-width="1.15"/>
<circle cx="223.70" cy="454.20" r="3.60" fill="#1212d8" stroke="#000030" stroke-width="1.15"/>
<text x="313.60" y="381.30" font-size="12.6" text-anchor="start" fill="#000" font-weight="bold">F</text>
<text x="405.20" y="374.30" font-size="12.2" text-anchor="middle" fill="#222" stroke="#222" stroke-width="0.22">central</text>
<text x="405.5" y="388.3" font-size="12.6" text-anchor="middle" fill="#222" stroke="#222" stroke-width="0.22">CD150<tspan dx="1.2" dy="-6" font-size="9">+</tspan><tspan dx="0.9" dy="6">CD48</tspan><tspan dy="-6" font-size="10">-</tspan><tspan dy="6">LSK</tspan></text>
<text x="354.40" y="399.00" font-size="10.3" text-anchor="middle" fill="#222" stroke="#222" stroke-width="0.22">5 weeks</text>
<text x="402.90" y="399.00" font-size="10.3" text-anchor="middle" fill="#222" stroke="#222" stroke-width="0.22">12 weeks</text>
<text x="459.80" y="399.00" font-size="10.3" text-anchor="middle" fill="#222" stroke="#222" stroke-width="0.22">20 weeks</text>
<line x1="323.20" y1="403.30" x2="485.20" y2="403.30" stroke="#000" stroke-width="2" stroke-linecap="butt"/>
<line x1="484.20" y1="403.30" x2="484.20" y2="538.60" stroke="#000" stroke-width="2" stroke-linecap="butt"/>
<line x1="327.20" y1="403.30" x2="327.20" y2="537.60" stroke="#000" stroke-width="2" stroke-linecap="butt"/>
<line x1="323.20" y1="537.60" x2="485.20" y2="537.60" stroke="#000" stroke-width="2" stroke-linecap="butt"/>
<line x1="377.40" y1="404.80" x2="377.40" y2="536.60" stroke="#000" stroke-width="1.4" stroke-linecap="butt" stroke-dasharray="10 2"/>
<line x1="433.50" y1="404.80" x2="433.50" y2="536.60" stroke="#000" stroke-width="1.4" stroke-linecap="butt" stroke-dasharray="10 2"/>
<line x1="323.20" y1="403.30" x2="327.20" y2="403.30" stroke="#000" stroke-width="2" stroke-linecap="butt"/>
<text x="317.90" y="406.20" font-size="8.2" text-anchor="end" fill="#222" stroke="#222" stroke-width="0.22">100</text>
<line x1="323.20" y1="430.16" x2="327.20" y2="430.16" stroke="#000" stroke-width="2" stroke-linecap="butt"/>
<text x="317.90" y="433.06" font-size="8.2" text-anchor="end" fill="#222" stroke="#222" stroke-width="0.22">80</text>
<line x1="323.20" y1="457.02" x2="327.20" y2="457.02" stroke="#000" stroke-width="2" stroke-linecap="butt"/>
<text x="317.90" y="459.92" font-size="8.2" text-anchor="end" fill="#222" stroke="#222" stroke-width="0.22">60</text>
<line x1="323.20" y1="483.88" x2="327.20" y2="483.88" stroke="#000" stroke-width="2" stroke-linecap="butt"/>
<text x="317.90" y="486.78" font-size="8.2" text-anchor="end" fill="#222" stroke="#222" stroke-width="0.22">40</text>
<line x1="323.20" y1="510.74" x2="327.20" y2="510.74" stroke="#000" stroke-width="2" stroke-linecap="butt"/>
<text x="317.90" y="513.64" font-size="8.2" text-anchor="end" fill="#222" stroke="#222" stroke-width="0.22">20</text>
<text x="316.40" y="540.50" font-size="8.2" text-anchor="end" fill="#222" stroke="#222" stroke-width="0.22">0</text>
<line x1="332.60" y1="537.60" x2="332.60" y2="541.40" stroke="#000" stroke-width="1.6" stroke-linecap="butt"/>
<text transform="translate(335.30,546.40) rotate(-90)" font-size="8.5" text-anchor="end" fill="#1a1a1a" stroke="#1a1a1a" stroke-width="0.22">500</text>
<line x1="344.00" y1="537.60" x2="344.00" y2="541.40" stroke="#000" stroke-width="1.6" stroke-linecap="butt"/>
<text transform="translate(346.70,546.40) rotate(-90)" font-size="8.5" text-anchor="end" fill="#1a1a1a" stroke="#1a1a1a" stroke-width="0.22">200</text>
<line x1="355.10" y1="537.60" x2="355.10" y2="541.40" stroke="#000" stroke-width="1.6" stroke-linecap="butt"/>
<text transform="translate(357.80,546.40) rotate(-90)" font-size="8.5" text-anchor="end" fill="#1a1a1a" stroke="#1a1a1a" stroke-width="0.22">100</text>
<line x1="366.40" y1="537.60" x2="366.40" y2="541.40" stroke="#000" stroke-width="1.6" stroke-linecap="butt"/>
<text transform="translate(369.10,546.40) rotate(-90)" font-size="8.5" text-anchor="end" fill="#1a1a1a" stroke="#1a1a1a" stroke-width="0.22">20</text>
<line x1="388.60" y1="537.60" x2="388.60" y2="541.40" stroke="#000" stroke-width="1.6" stroke-linecap="butt"/>
<text transform="translate(391.30,546.40) rotate(-90)" font-size="8.5" text-anchor="end" fill="#1a1a1a" stroke="#1a1a1a" stroke-width="0.22">500</text>
<line x1="399.80" y1="537.60" x2="399.80" y2="541.40" stroke="#000" stroke-width="1.6" stroke-linecap="butt"/>
<text transform="translate(402.50,546.40) rotate(-90)" font-size="8.5" text-anchor="end" fill="#1a1a1a" stroke="#1a1a1a" stroke-width="0.22">200</text>
<line x1="411.10" y1="537.60" x2="411.10" y2="541.40" stroke="#000" stroke-width="1.6" stroke-linecap="butt"/>
<text transform="translate(413.80,546.40) rotate(-90)" font-size="8.5" text-anchor="end" fill="#1a1a1a" stroke="#1a1a1a" stroke-width="0.22">100</text>
<line x1="422.30" y1="537.60" x2="422.30" y2="541.40" stroke="#000" stroke-width="1.6" stroke-linecap="butt"/>
<text transform="translate(425.00,546.40) rotate(-90)" font-size="8.5" text-anchor="end" fill="#1a1a1a" stroke="#1a1a1a" stroke-width="0.22">20</text>
<line x1="444.90" y1="537.60" x2="444.90" y2="541.40" stroke="#000" stroke-width="1.6" stroke-linecap="butt"/>
<text transform="translate(447.60,546.40) rotate(-90)" font-size="8.5" text-anchor="end" fill="#1a1a1a" stroke="#1a1a1a" stroke-width="0.22">500</text>
<line x1="456.20" y1="537.60" x2="456.20" y2="541.40" stroke="#000" stroke-width="1.6" stroke-linecap="butt"/>
<text transform="translate(458.90,546.40) rotate(-90)" font-size="8.5" text-anchor="end" fill="#1a1a1a" stroke="#1a1a1a" stroke-width="0.22">200</text>
<line x1="467.40" y1="537.60" x2="467.40" y2="541.40" stroke="#000" stroke-width="1.6" stroke-linecap="butt"/>
<text transform="translate(470.10,546.40) rotate(-90)" font-size="8.5" text-anchor="end" fill="#1a1a1a" stroke="#1a1a1a" stroke-width="0.22">100</text>
<line x1="478.80" y1="537.60" x2="478.80" y2="541.40" stroke="#000" stroke-width="1.6" stroke-linecap="butt"/>
<text transform="translate(481.50,546.40) rotate(-90)" font-size="8.5" text-anchor="end" fill="#1a1a1a" stroke="#1a1a1a" stroke-width="0.22">20</text>
<text x="410.00" y="570.70" font-size="10.35" text-anchor="middle" fill="#222" stroke="#222" stroke-width="0.22">cell dose</text>
<text transform="translate(294.20,462.50) rotate(-90)" x="0" y="0" font-size="10.25" text-anchor="middle" fill="#222" stroke="#222" stroke-width="0.22">% of cell lineage</text>
<circle cx="332.60" cy="533.30" r="3.40" fill="#1212d8" stroke="#000030" stroke-width="1.15"/>
<circle cx="332.60" cy="468.00" r="3.40" fill="#f01414" stroke="#3a0000" stroke-width="1.15"/>
<circle cx="332.60" cy="483.70" r="3.40" fill="#f01414" stroke="#3a0000" stroke-width="1.15"/>
<circle cx="332.60" cy="493.50" r="3.40" fill="#f01414" stroke="#3a0000" stroke-width="1.15"/>
<circle cx="332.60" cy="496.90" r="3.40" fill="#f01414" stroke="#3a0000" stroke-width="1.15"/>
<circle cx="332.60" cy="511.30" r="3.40" fill="#f01414" stroke="#3a0000" stroke-width="1.15"/>
<circle cx="332.60" cy="436.70" r="3.40" fill="#1ef01e" stroke="#052a05" stroke-width="1.15"/>
<circle cx="332.60" cy="456.80" r="3.40" fill="#1ef01e" stroke="#052a05" stroke-width="1.15"/>
<circle cx="332.60" cy="459.00" r="3.40" fill="#1ef01e" stroke="#052a05" stroke-width="1.15"/>
<circle cx="332.60" cy="462.50" r="3.40" fill="#1ef01e" stroke="#052a05" stroke-width="1.15"/>
<circle cx="332.60" cy="487.70" r="3.40" fill="#1ef01e" stroke="#052a05" stroke-width="1.15"/>
<circle cx="344.00" cy="529.20" r="3.40" fill="#1212d8" stroke="#000030" stroke-width="1.15"/>
<circle cx="344.00" cy="472.70" r="3.40" fill="#f01414" stroke="#3a0000" stroke-width="1.15"/>
<circle cx="344.00" cy="502.10" r="3.40" fill="#f01414" stroke="#3a0000" stroke-width="1.15"/>
<circle cx="344.00" cy="520.00" r="3.40" fill="#f01414" stroke="#3a0000" stroke-width="1.15"/>
<circle cx="344.00" cy="523.50" r="3.40" fill="#f01414" stroke="#3a0000" stroke-width="1.15"/>
<circle cx="344.00" cy="533.80" r="3.40" fill="#f01414" stroke="#3a0000" stroke-width="1.15"/>
<circle cx="344.00" cy="430.50" r="3.40" fill="#1ef01e" stroke="#052a05" stroke-width="1.15"/>
<circle cx="344.00" cy="438.40" r="3.40" fill="#1ef01e" stroke="#052a05" stroke-width="1.15"/>
<circle cx="344.00" cy="440.70" r="3.40" fill="#1ef01e" stroke="#052a05" stroke-width="1.15"/>
<circle cx="344.00" cy="448.80" r="3.40" fill="#1ef01e" stroke="#052a05" stroke-width="1.15"/>
<circle cx="344.00" cy="463.30" r="3.40" fill="#1ef01e" stroke="#052a05" stroke-width="1.15"/>
<circle cx="344.00" cy="475.60" r="3.40" fill="#1ef01e" stroke="#052a05" stroke-width="1.15"/>
<circle cx="344.00" cy="486.00" r="3.40" fill="#1ef01e" stroke="#052a05" stroke-width="1.15"/>
<circle cx="355.10" cy="493.50" r="3.40" fill="#f01414" stroke="#3a0000" stroke-width="1.15"/>
<circle cx="355.10" cy="498.10" r="3.40" fill="#f01414" stroke="#3a0000" stroke-width="1.15"/>
<circle cx="355.10" cy="503.80" r="3.40" fill="#f01414" stroke="#3a0000" stroke-width="1.15"/>
<circle cx="355.10" cy="516.00" r="3.40" fill="#f01414" stroke="#3a0000" stroke-width="1.15"/>
<circle cx="355.10" cy="526.30" r="3.40" fill="#f01414" stroke="#3a0000" stroke-width="1.15"/>
<circle cx="355.10" cy="530.40" r="3.40" fill="#f01414" stroke="#3a0000" stroke-width="1.15"/>
<circle cx="355.10" cy="534.40" r="3.40" fill="#f01414" stroke="#3a0000" stroke-width="1.15"/>
<circle cx="355.10" cy="411.30" r="3.40" fill="#1ef01e" stroke="#052a05" stroke-width="1.15"/>
<circle cx="355.10" cy="420.50" r="3.40" fill="#1ef01e" stroke="#052a05" stroke-width="1.15"/>
<circle cx="355.10" cy="424.50" r="3.40" fill="#1ef01e" stroke="#052a05" stroke-width="1.15"/>
<circle cx="355.10" cy="450.50" r="3.40" fill="#1ef01e" stroke="#052a05" stroke-width="1.15"/>
<circle cx="355.10" cy="457.40" r="3.40" fill="#1ef01e" stroke="#052a05" stroke-width="1.15"/>
<circle cx="355.10" cy="462.20" r="3.40" fill="#1ef01e" stroke="#052a05" stroke-width="1.15"/>
<circle cx="355.10" cy="470.20" r="3.40" fill="#1ef01e" stroke="#052a05" stroke-width="1.15"/>
<circle cx="366.40" cy="529.20" r="3.40" fill="#1212d8" stroke="#000030" stroke-width="1.15"/>
<circle cx="366.40" cy="480.80" r="3.40" fill="#f01414" stroke="#3a0000" stroke-width="1.15"/>
<circle cx="366.40" cy="494.00" r="3.40" fill="#f01414" stroke="#3a0000" stroke-width="1.15"/>
<circle cx="366.40" cy="499.20" r="3.40" fill="#f01414" stroke="#3a0000" stroke-width="1.15"/>
<circle cx="366.40" cy="502.10" r="3.40" fill="#f01414" stroke="#3a0000" stroke-width="1.15"/>
<circle cx="366.40" cy="515.40" r="3.40" fill="#f01414" stroke="#3a0000" stroke-width="1.15"/>
<circle cx="366.40" cy="534.40" r="3.40" fill="#f01414" stroke="#3a0000" stroke-width="1.15"/>
<circle cx="366.40" cy="422.50" r="3.40" fill="#1ef01e" stroke="#052a05" stroke-width="1.15"/>
<circle cx="366.40" cy="440.50" r="3.40" fill="#1ef01e" stroke="#052a05" stroke-width="1.15"/>
<circle cx="366.40" cy="449.30" r="3.40" fill="#1ef01e" stroke="#052a05" stroke-width="1.15"/>
<circle cx="366.40" cy="457.40" r="3.40" fill="#1ef01e" stroke="#052a05" stroke-width="1.15"/>
<circle cx="366.40" cy="461.20" r="3.40" fill="#1ef01e" stroke="#052a05" stroke-width="1.15"/>
<circle cx="366.40" cy="464.80" r="3.40" fill="#1ef01e" stroke="#052a05" stroke-width="1.15"/>
<circle cx="366.40" cy="468.80" r="3.40" fill="#1ef01e" stroke="#052a05" stroke-width="1.15"/>
<circle cx="366.40" cy="483.10" r="3.40" fill="#1ef01e" stroke="#052a05" stroke-width="1.15"/>
<circle cx="366.40" cy="488.30" r="3.40" fill="#1ef01e" stroke="#052a05" stroke-width="1.15"/>
<circle cx="388.60" cy="471.90" r="3.40" fill="#1212d8" stroke="#000030" stroke-width="1.15"/>
<circle cx="388.60" cy="498.70" r="3.40" fill="#1212d8" stroke="#000030" stroke-width="1.15"/>
<circle cx="388.60" cy="448.10" r="3.40" fill="#f01414" stroke="#3a0000" stroke-width="1.15"/>
<circle cx="388.60" cy="464.30" r="3.40" fill="#f01414" stroke="#3a0000" stroke-width="1.15"/>
<circle cx="388.60" cy="477.00" r="3.40" fill="#f01414" stroke="#3a0000" stroke-width="1.15"/>
<circle cx="388.60" cy="503.70" r="3.40" fill="#1ef01e" stroke="#052a05" stroke-width="1.15"/>
<circle cx="388.60" cy="511.00" r="3.40" fill="#1ef01e" stroke="#052a05" stroke-width="1.15"/>
<circle cx="388.60" cy="514.60" r="3.40" fill="#1ef01e" stroke="#052a05" stroke-width="1.15"/>
<circle cx="388.60" cy="518.90" r="3.40" fill="#1ef01e" stroke="#052a05" stroke-width="1.15"/>
<circle cx="399.80" cy="471.90" r="3.40" fill="#1212d8" stroke="#000030" stroke-width="1.15"/>
<circle cx="399.80" cy="477.70" r="3.40" fill="#1212d8" stroke="#000030" stroke-width="1.15"/>
<circle cx="399.80" cy="513.10" r="3.40" fill="#1212d8" stroke="#000030" stroke-width="1.15"/>
<circle cx="399.80" cy="464.40" r="3.40" fill="#f01414" stroke="#3a0000" stroke-width="1.15"/>
<circle cx="399.80" cy="487.80" r="3.40" fill="#f01414" stroke="#3a0000" stroke-width="1.15"/>
<circle cx="399.80" cy="497.20" r="3.40" fill="#f01414" stroke="#3a0000" stroke-width="1.15"/>
<circle cx="399.80" cy="499.40" r="3.40" fill="#f01414" stroke="#3a0000" stroke-width="1.15"/>
<circle cx="399.80" cy="458.20" r="3.40" fill="#1ef01e" stroke="#052a05" stroke-width="1.15"/>
<circle cx="399.80" cy="505.20" r="3.40" fill="#1ef01e" stroke="#052a05" stroke-width="1.15"/>
<circle cx="399.80" cy="510.20" r="3.40" fill="#1ef01e" stroke="#052a05" stroke-width="1.15"/>
<circle cx="399.80" cy="520.40" r="3.40" fill="#1ef01e" stroke="#052a05" stroke-width="1.15"/>
<circle cx="399.80" cy="526.10" r="3.40" fill="#1ef01e" stroke="#052a05" stroke-width="1.15"/>
<circle cx="411.10" cy="479.20" r="3.40" fill="#1212d8" stroke="#000030" stroke-width="1.15"/>
<circle cx="411.10" cy="529.00" r="3.40" fill="#1212d8" stroke="#000030" stroke-width="1.15"/>
<circle cx="411.10" cy="449.10" r="3.40" fill="#f01414" stroke="#3a0000" stroke-width="1.15"/>
<circle cx="411.10" cy="463.50" r="3.40" fill="#f01414" stroke="#3a0000" stroke-width="1.15"/>
<circle cx="411.10" cy="473.40" r="3.40" fill="#f01414" stroke="#3a0000" stroke-width="1.15"/>
<circle cx="411.10" cy="485.70" r="3.40" fill="#f01414" stroke="#3a0000" stroke-width="1.15"/>
<circle cx="411.10" cy="493.60" r="3.40" fill="#f01414" stroke="#3a0000" stroke-width="1.15"/>
<circle cx="411.10" cy="496.50" r="3.40" fill="#f01414" stroke="#3a0000" stroke-width="1.15"/>
<circle cx="411.10" cy="488.60" r="3.40" fill="#1ef01e" stroke="#052a05" stroke-width="1.15"/>
<circle cx="411.10" cy="500.80" r="3.40" fill="#1ef01e" stroke="#052a05" stroke-width="1.15"/>
<circle cx="411.10" cy="507.30" r="3.40" fill="#1ef01e" stroke="#052a05" stroke-width="1.15"/>
<circle cx="411.10" cy="517.50" r="3.40" fill="#1ef01e" stroke="#052a05" stroke-width="1.15"/>
<circle cx="411.10" cy="523.20" r="3.40" fill="#1ef01e" stroke="#052a05" stroke-width="1.15"/>
<circle cx="422.30" cy="474.10" r="3.40" fill="#1212d8" stroke="#000030" stroke-width="1.15"/>
<circle cx="422.30" cy="481.30" r="3.40" fill="#1212d8" stroke="#000030" stroke-width="1.15"/>
<circle cx="422.30" cy="455.30" r="3.40" fill="#f01414" stroke="#3a0000" stroke-width="1.15"/>
<circle cx="422.30" cy="461.80" r="3.40" fill="#f01414" stroke="#3a0000" stroke-width="1.15"/>
<circle cx="422.30" cy="468.30" r="3.40" fill="#f01414" stroke="#3a0000" stroke-width="1.15"/>
<circle cx="422.30" cy="487.10" r="3.40" fill="#f01414" stroke="#3a0000" stroke-width="1.15"/>
<circle cx="422.30" cy="493.60" r="3.40" fill="#f01414" stroke="#3a0000" stroke-width="1.15"/>
<circle cx="422.30" cy="496.50" r="3.40" fill="#f01414" stroke="#3a0000" stroke-width="1.15"/>
<circle cx="422.30" cy="503.00" r="3.40" fill="#1ef01e" stroke="#052a05" stroke-width="1.15"/>
<circle cx="422.30" cy="508.80" r="3.40" fill="#1ef01e" stroke="#052a05" stroke-width="1.15"/>
<circle cx="422.30" cy="515.30" r="3.40" fill="#1ef01e" stroke="#052a05" stroke-width="1.15"/>
<circle cx="422.30" cy="524.00" r="3.40" fill="#1ef01e" stroke="#052a05" stroke-width="1.15"/>
<circle cx="422.30" cy="534.10" r="3.40" fill="#1ef01e" stroke="#052a05" stroke-width="1.15"/>
<circle cx="444.90" cy="472.60" r="3.40" fill="#1212d8" stroke="#000030" stroke-width="1.15"/>
<circle cx="444.90" cy="496.50" r="3.40" fill="#1212d8" stroke="#000030" stroke-width="1.15"/>
<circle cx="444.90" cy="499.40" r="3.40" fill="#1212d8" stroke="#000030" stroke-width="1.15"/>
<circle cx="444.90" cy="442.30" r="3.40" fill="#f01414" stroke="#3a0000" stroke-width="1.15"/>
<circle cx="444.90" cy="458.90" r="3.40" fill="#f01414" stroke="#3a0000" stroke-width="1.15"/>
<circle cx="444.90" cy="462.50" r="3.40" fill="#f01414" stroke="#3a0000" stroke-width="1.15"/>
<circle cx="444.90" cy="465.40" r="3.40" fill="#f01414" stroke="#3a0000" stroke-width="1.15"/>
<circle cx="444.90" cy="484.60" r="3.40" fill="#f01414" stroke="#3a0000" stroke-width="1.15"/>
<circle cx="444.90" cy="508.10" r="3.40" fill="#1ef01e" stroke="#052a05" stroke-width="1.15"/>
<circle cx="444.90" cy="518.90" r="3.40" fill="#1ef01e" stroke="#052a05" stroke-width="1.15"/>
<circle cx="444.90" cy="522.50" r="3.40" fill="#1ef01e" stroke="#052a05" stroke-width="1.15"/>
<circle cx="444.90" cy="526.90" r="3.40" fill="#1ef01e" stroke="#052a05" stroke-width="1.15"/>
<circle cx="456.20" cy="464.00" r="3.40" fill="#1212d8" stroke="#000030" stroke-width="1.15"/>
<circle cx="456.20" cy="476.30" r="3.40" fill="#1212d8" stroke="#000030" stroke-width="1.15"/>
<circle cx="456.20" cy="488.60" r="3.40" fill="#1212d8" stroke="#000030" stroke-width="1.15"/>
<circle cx="456.20" cy="495.10" r="3.40" fill="#1212d8" stroke="#000030" stroke-width="1.15"/>
<circle cx="456.20" cy="449.50" r="3.40" fill="#f01414" stroke="#3a0000" stroke-width="1.15"/>
<circle cx="456.20" cy="458.20" r="3.40" fill="#f01414" stroke="#3a0000" stroke-width="1.15"/>
<circle cx="456.20" cy="470.50" r="3.40" fill="#f01414" stroke="#3a0000" stroke-width="1.15"/>
<circle cx="456.20" cy="479.90" r="3.40" fill="#f01414" stroke="#3a0000" stroke-width="1.15"/>
<circle cx="456.20" cy="482.80" r="3.40" fill="#f01414" stroke="#3a0000" stroke-width="1.15"/>
<circle cx="456.20" cy="503.70" r="3.40" fill="#f01414" stroke="#3a0000" stroke-width="1.15"/>
<circle cx="456.20" cy="508.80" r="3.40" fill="#1ef01e" stroke="#052a05" stroke-width="1.15"/>
<circle cx="456.20" cy="513.90" r="3.40" fill="#1ef01e" stroke="#052a05" stroke-width="1.15"/>
<circle cx="456.20" cy="518.20" r="3.40" fill="#1ef01e" stroke="#052a05" stroke-width="1.15"/>
<circle cx="456.20" cy="521.10" r="3.40" fill="#1ef01e" stroke="#052a05" stroke-width="1.15"/>
<circle cx="456.20" cy="525.40" r="3.40" fill="#1ef01e" stroke="#052a05" stroke-width="1.15"/>
<circle cx="467.40" cy="484.90" r="3.40" fill="#1212d8" stroke="#000030" stroke-width="1.15"/>
<circle cx="467.40" cy="504.50" r="3.40" fill="#1212d8" stroke="#000030" stroke-width="1.15"/>
<circle cx="467.40" cy="521.80" r="3.40" fill="#1212d8" stroke="#000030" stroke-width="1.15"/>
<circle cx="467.40" cy="451.00" r="3.40" fill="#f01414" stroke="#3a0000" stroke-width="1.15"/>
<circle cx="467.40" cy="453.10" r="3.40" fill="#f01414" stroke="#3a0000" stroke-width="1.15"/>
<circle cx="467.40" cy="462.50" r="3.40" fill="#f01414" stroke="#3a0000" stroke-width="1.15"/>
<circle cx="467.40" cy="466.10" r="3.40" fill="#f01414" stroke="#3a0000" stroke-width="1.15"/>
<circle cx="467.40" cy="476.30" r="3.40" fill="#f01414" stroke="#3a0000" stroke-width="1.15"/>
<circle cx="467.40" cy="490.70" r="3.40" fill="#f01414" stroke="#3a0000" stroke-width="1.15"/>
<circle cx="467.40" cy="511.00" r="3.40" fill="#1ef01e" stroke="#052a05" stroke-width="1.15"/>
<circle cx="467.40" cy="517.50" r="3.40" fill="#1ef01e" stroke="#052a05" stroke-width="1.15"/>
<circle cx="467.40" cy="529.00" r="3.40" fill="#1ef01e" stroke="#052a05" stroke-width="1.15"/>
<circle cx="478.80" cy="492.20" r="3.40" fill="#1212d8" stroke="#000030" stroke-width="1.15"/>
<circle cx="478.80" cy="502.30" r="3.40" fill="#1212d8" stroke="#000030" stroke-width="1.15"/>
<circle cx="478.80" cy="511.00" r="3.40" fill="#1212d8" stroke="#000030" stroke-width="1.15"/>
<circle cx="478.80" cy="435.10" r="3.40" fill="#f01414" stroke="#3a0000" stroke-width="1.15"/>
<circle cx="478.80" cy="455.30" r="3.40" fill="#f01414" stroke="#3a0000" stroke-width="1.15"/>
<circle cx="478.80" cy="459.60" r="3.40" fill="#f01414" stroke="#3a0000" stroke-width="1.15"/>
<circle cx="478.80" cy="465.40" r="3.40" fill="#f01414" stroke="#3a0000" stroke-width="1.15"/>
<circle cx="478.80" cy="469.00" r="3.40" fill="#f01414" stroke="#3a0000" stroke-width="1.15"/>
<circle cx="478.80" cy="472.60" r="3.40" fill="#f01414" stroke="#3a0000" stroke-width="1.15"/>
<circle cx="478.80" cy="485.70" r="3.40" fill="#f01414" stroke="#3a0000" stroke-width="1.15"/>
<circle cx="478.80" cy="496.50" r="3.40" fill="#1ef01e" stroke="#052a05" stroke-width="1.15"/>
<circle cx="478.80" cy="516.70" r="3.40" fill="#1ef01e" stroke="#052a05" stroke-width="1.15"/>
<circle cx="478.80" cy="521.10" r="3.40" fill="#1ef01e" stroke="#052a05" stroke-width="1.15"/>
<circle cx="478.80" cy="525.40" r="3.40" fill="#1ef01e" stroke="#052a05" stroke-width="1.15"/>
<circle cx="478.80" cy="533.40" r="3.40" fill="#1ef01e" stroke="#052a05" stroke-width="1.15"/>
<text transform="translate(503.10,491.00) rotate(-90)" x="0" y="0" font-size="10.15" text-anchor="start" fill="#222" stroke="#222" stroke-width="0.22">Gr-1/Mac-1</text>
<text transform="translate(517.60,491.00) rotate(-90)" x="0" y="0" font-size="10.15" text-anchor="start" fill="#222" stroke="#222" stroke-width="0.22">B220</text>
<text transform="translate(517.60,443.00) rotate(-90)" x="0" y="0" font-size="10.15" text-anchor="start" fill="#222" stroke="#222" stroke-width="0.22">CD3</text>
<circle cx="498.70" cy="498.60" r="3.60" fill="#1ef01e" stroke="#052a05" stroke-width="1.15"/>
<circle cx="513.80" cy="498.60" r="3.60" fill="#f01414" stroke="#3a0000" stroke-width="1.15"/>
<circle cx="513.80" cy="454.20" r="3.60" fill="#1212d8" stroke="#000030" stroke-width="1.15"/>
<text x="33.30" y="598.80" font-size="12.6" text-anchor="start" fill="#000" font-weight="bold">G</text>
<text x="121.00" y="590.80" font-size="12.2" text-anchor="middle" fill="#222" stroke="#222" stroke-width="0.22">endosteal</text>
<text x="120.9" y="604.3" font-size="12.6" text-anchor="middle" fill="#222" stroke="#222" stroke-width="0.22">CD150<tspan dx="1.2" dy="-6" font-size="9">+</tspan><tspan dx="0.9" dy="6">CD48</tspan><tspan dy="-6" font-size="10">+</tspan><tspan dy="6">LSK</tspan></text>
<text x="67.20" y="613.70" font-size="10.3" text-anchor="middle" fill="#222" stroke="#222" stroke-width="0.22">5 weeks</text>
<text x="115.70" y="613.70" font-size="10.3" text-anchor="middle" fill="#222" stroke="#222" stroke-width="0.22">12 weeks</text>
<text x="172.60" y="613.70" font-size="10.3" text-anchor="middle" fill="#222" stroke="#222" stroke-width="0.22">20 weeks</text>
<line x1="36.00" y1="620.80" x2="198.00" y2="620.80" stroke="#000" stroke-width="2" stroke-linecap="butt"/>
<line x1="197.00" y1="620.80" x2="197.00" y2="756.10" stroke="#000" stroke-width="2" stroke-linecap="butt"/>
<line x1="40.00" y1="620.80" x2="40.00" y2="755.10" stroke="#000" stroke-width="2" stroke-linecap="butt"/>
<line x1="36.00" y1="755.10" x2="198.00" y2="755.10" stroke="#000" stroke-width="2" stroke-linecap="butt"/>
<line x1="90.20" y1="622.30" x2="90.20" y2="754.10" stroke="#000" stroke-width="1.4" stroke-linecap="butt" stroke-dasharray="10 2"/>
<line x1="146.30" y1="622.30" x2="146.30" y2="754.10" stroke="#000" stroke-width="1.4" stroke-linecap="butt" stroke-dasharray="10 2"/>
<line x1="36.00" y1="620.80" x2="40.00" y2="620.80" stroke="#000" stroke-width="2" stroke-linecap="butt"/>
<text x="30.70" y="623.70" font-size="8.2" text-anchor="end" fill="#222" stroke="#222" stroke-width="0.22">100</text>
<line x1="36.00" y1="647.66" x2="40.00" y2="647.66" stroke="#000" stroke-width="2" stroke-linecap="butt"/>
<text x="30.70" y="650.56" font-size="8.2" text-anchor="end" fill="#222" stroke="#222" stroke-width="0.22">80</text>
<line x1="36.00" y1="674.52" x2="40.00" y2="674.52" stroke="#000" stroke-width="2" stroke-linecap="butt"/>
<text x="30.70" y="677.42" font-size="8.2" text-anchor="end" fill="#222" stroke="#222" stroke-width="0.22">60</text>
<line x1="36.00" y1="701.38" x2="40.00" y2="701.38" stroke="#000" stroke-width="2" stroke-linecap="butt"/>
<text x="30.70" y="704.28" font-size="8.2" text-anchor="end" fill="#222" stroke="#222" stroke-width="0.22">40</text>
<line x1="36.00" y1="728.24" x2="40.00" y2="728.24" stroke="#000" stroke-width="2" stroke-linecap="butt"/>
<text x="30.70" y="731.14" font-size="8.2" text-anchor="end" fill="#222" stroke="#222" stroke-width="0.22">20</text>
<text x="29.20" y="758.00" font-size="8.2" text-anchor="end" fill="#222" stroke="#222" stroke-width="0.22">0</text>
<line x1="45.40" y1="755.10" x2="45.40" y2="758.90" stroke="#000" stroke-width="1.6" stroke-linecap="butt"/>
<text transform="translate(48.10,763.90) rotate(-90)" font-size="8.5" text-anchor="end" fill="#1a1a1a" stroke="#1a1a1a" stroke-width="0.22">500</text>
<line x1="56.80" y1="755.10" x2="56.80" y2="758.90" stroke="#000" stroke-width="1.6" stroke-linecap="butt"/>
<text transform="translate(59.50,763.90) rotate(-90)" font-size="8.5" text-anchor="end" fill="#1a1a1a" stroke="#1a1a1a" stroke-width="0.22">200</text>
<line x1="67.90" y1="755.10" x2="67.90" y2="758.90" stroke="#000" stroke-width="1.6" stroke-linecap="butt"/>
<text transform="translate(70.60,763.90) rotate(-90)" font-size="8.5" text-anchor="end" fill="#1a1a1a" stroke="#1a1a1a" stroke-width="0.22">100</text>
<line x1="79.20" y1="755.10" x2="79.20" y2="758.90" stroke="#000" stroke-width="1.6" stroke-linecap="butt"/>
<text transform="translate(81.90,763.90) rotate(-90)" font-size="8.5" text-anchor="end" fill="#1a1a1a" stroke="#1a1a1a" stroke-width="0.22">20</text>
<line x1="101.40" y1="755.10" x2="101.40" y2="758.90" stroke="#000" stroke-width="1.6" stroke-linecap="butt"/>
<text transform="translate(104.10,763.90) rotate(-90)" font-size="8.5" text-anchor="end" fill="#1a1a1a" stroke="#1a1a1a" stroke-width="0.22">500</text>
<line x1="112.60" y1="755.10" x2="112.60" y2="758.90" stroke="#000" stroke-width="1.6" stroke-linecap="butt"/>
<text transform="translate(115.30,763.90) rotate(-90)" font-size="8.5" text-anchor="end" fill="#1a1a1a" stroke="#1a1a1a" stroke-width="0.22">200</text>
<line x1="123.90" y1="755.10" x2="123.90" y2="758.90" stroke="#000" stroke-width="1.6" stroke-linecap="butt"/>
<text transform="translate(126.60,763.90) rotate(-90)" font-size="8.5" text-anchor="end" fill="#1a1a1a" stroke="#1a1a1a" stroke-width="0.22">100</text>
<line x1="135.10" y1="755.10" x2="135.10" y2="758.90" stroke="#000" stroke-width="1.6" stroke-linecap="butt"/>
<text transform="translate(137.80,763.90) rotate(-90)" font-size="8.5" text-anchor="end" fill="#1a1a1a" stroke="#1a1a1a" stroke-width="0.22">20</text>
<line x1="157.70" y1="755.10" x2="157.70" y2="758.90" stroke="#000" stroke-width="1.6" stroke-linecap="butt"/>
<text transform="translate(160.40,763.90) rotate(-90)" font-size="8.5" text-anchor="end" fill="#1a1a1a" stroke="#1a1a1a" stroke-width="0.22">500</text>
<line x1="169.00" y1="755.10" x2="169.00" y2="758.90" stroke="#000" stroke-width="1.6" stroke-linecap="butt"/>
<text transform="translate(171.70,763.90) rotate(-90)" font-size="8.5" text-anchor="end" fill="#1a1a1a" stroke="#1a1a1a" stroke-width="0.22">200</text>
<line x1="180.20" y1="755.10" x2="180.20" y2="758.90" stroke="#000" stroke-width="1.6" stroke-linecap="butt"/>
<text transform="translate(182.90,763.90) rotate(-90)" font-size="8.5" text-anchor="end" fill="#1a1a1a" stroke="#1a1a1a" stroke-width="0.22">100</text>
<line x1="191.60" y1="755.10" x2="191.60" y2="758.90" stroke="#000" stroke-width="1.6" stroke-linecap="butt"/>
<text transform="translate(194.30,763.90) rotate(-90)" font-size="8.5" text-anchor="end" fill="#1a1a1a" stroke="#1a1a1a" stroke-width="0.22">20</text>
<text x="113.20" y="790.30" font-size="10.35" text-anchor="middle" fill="#222" stroke="#222" stroke-width="0.22">cell dose</text>
<text transform="translate(11.60,681.80) rotate(-90)" x="0" y="0" font-size="10.25" text-anchor="middle" fill="#222" stroke="#222" stroke-width="0.22">% of cell lineage</text>
<circle cx="45.40" cy="750.00" r="3.40" fill="#1212d8" stroke="#000030" stroke-width="1.15"/>
<circle cx="45.40" cy="645.20" r="3.40" fill="#f01414" stroke="#3a0000" stroke-width="1.15"/>
<circle cx="45.40" cy="741.30" r="3.40" fill="#f01414" stroke="#3a0000" stroke-width="1.15"/>
<circle cx="45.40" cy="685.20" r="3.40" fill="#1ef01e" stroke="#052a05" stroke-width="1.15"/>
<circle cx="45.40" cy="734.40" r="3.40" fill="#1ef01e" stroke="#052a05" stroke-width="1.15"/>
<circle cx="45.40" cy="736.70" r="3.40" fill="#1ef01e" stroke="#052a05" stroke-width="1.15"/>
<circle cx="45.40" cy="752.90" r="3.40" fill="#1ef01e" stroke="#052a05" stroke-width="1.15"/>
<circle cx="56.80" cy="636.30" r="3.40" fill="#f01414" stroke="#3a0000" stroke-width="1.15"/>
<circle cx="56.80" cy="694.00" r="3.40" fill="#f01414" stroke="#3a0000" stroke-width="1.15"/>
<circle cx="56.80" cy="727.50" r="3.40" fill="#f01414" stroke="#3a0000" stroke-width="1.15"/>
<circle cx="56.80" cy="741.90" r="3.40" fill="#f01414" stroke="#3a0000" stroke-width="1.15"/>
<circle cx="56.80" cy="638.10" r="3.40" fill="#1ef01e" stroke="#052a05" stroke-width="1.15"/>
<circle cx="56.80" cy="671.50" r="3.40" fill="#1ef01e" stroke="#052a05" stroke-width="1.15"/>
<circle cx="56.80" cy="720.90" r="3.40" fill="#1ef01e" stroke="#052a05" stroke-width="1.15"/>
<circle cx="56.80" cy="736.70" r="3.40" fill="#1ef01e" stroke="#052a05" stroke-width="1.15"/>
<circle cx="56.80" cy="748.80" r="3.40" fill="#1ef01e" stroke="#052a05" stroke-width="1.15"/>
<circle cx="56.80" cy="752.30" r="3.40" fill="#1ef01e" stroke="#052a05" stroke-width="1.15"/>
<circle cx="67.90" cy="755.80" r="3.40" fill="#1212d8" stroke="#000030" stroke-width="1.15"/>
<circle cx="67.90" cy="627.10" r="3.40" fill="#f01414" stroke="#3a0000" stroke-width="1.15"/>
<circle cx="67.90" cy="649.00" r="3.40" fill="#f01414" stroke="#3a0000" stroke-width="1.15"/>
<circle cx="67.90" cy="707.90" r="3.40" fill="#f01414" stroke="#3a0000" stroke-width="1.15"/>
<circle cx="67.90" cy="732.70" r="3.40" fill="#f01414" stroke="#3a0000" stroke-width="1.15"/>
<circle cx="67.90" cy="665.80" r="3.40" fill="#1ef01e" stroke="#052a05" stroke-width="1.15"/>
<circle cx="67.90" cy="716.00" r="3.40" fill="#1ef01e" stroke="#052a05" stroke-width="1.15"/>
<circle cx="67.90" cy="744.20" r="3.40" fill="#1ef01e" stroke="#052a05" stroke-width="1.15"/>
<circle cx="67.90" cy="752.30" r="3.40" fill="#1ef01e" stroke="#052a05" stroke-width="1.15"/>
<circle cx="79.20" cy="621.00" r="3.40" fill="#f01414" stroke="#3a0000" stroke-width="1.15"/>
<circle cx="79.20" cy="692.10" r="3.40" fill="#1ef01e" stroke="#052a05" stroke-width="1.15"/>
<circle cx="79.20" cy="755.80" r="3.40" fill="#1ef01e" stroke="#052a05" stroke-width="1.15"/>
<circle cx="101.40" cy="685.40" r="3.40" fill="#1212d8" stroke="#000030" stroke-width="1.15"/>
<circle cx="101.40" cy="704.40" r="3.40" fill="#1212d8" stroke="#000030" stroke-width="1.15"/>
<circle cx="101.40" cy="670.70" r="3.40" fill="#f01414" stroke="#3a0000" stroke-width="1.15"/>
<circle cx="101.40" cy="728.70" r="3.40" fill="#f01414" stroke="#3a0000" stroke-width="1.15"/>
<circle cx="101.40" cy="731.00" r="3.40" fill="#f01414" stroke="#3a0000" stroke-width="1.15"/>
<circle cx="101.40" cy="710.20" r="3.40" fill="#1ef01e" stroke="#052a05" stroke-width="1.15"/>
<circle cx="101.40" cy="745.40" r="3.40" fill="#1ef01e" stroke="#052a05" stroke-width="1.15"/>
<circle cx="101.40" cy="755.20" r="3.40" fill="#1ef01e" stroke="#052a05" stroke-width="1.15"/>
<circle cx="112.60" cy="642.70" r="3.40" fill="#1212d8" stroke="#000030" stroke-width="1.15"/>
<circle cx="112.60" cy="651.90" r="3.40" fill="#1212d8" stroke="#000030" stroke-width="1.15"/>
<circle cx="112.60" cy="669.20" r="3.40" fill="#1212d8" stroke="#000030" stroke-width="1.15"/>
<circle cx="112.60" cy="744.80" r="3.40" fill="#1212d8" stroke="#000030" stroke-width="1.15"/>
<circle cx="112.60" cy="683.30" r="3.40" fill="#f01414" stroke="#3a0000" stroke-width="1.15"/>
<circle cx="112.60" cy="729.80" r="3.40" fill="#f01414" stroke="#3a0000" stroke-width="1.15"/>
<circle cx="112.60" cy="736.20" r="3.40" fill="#1ef01e" stroke="#052a05" stroke-width="1.15"/>
<circle cx="112.60" cy="750.00" r="3.40" fill="#1ef01e" stroke="#052a05" stroke-width="1.15"/>
<circle cx="112.60" cy="755.20" r="3.40" fill="#1ef01e" stroke="#052a05" stroke-width="1.15"/>
<circle cx="123.90" cy="688.60" r="3.40" fill="#1212d8" stroke="#000030" stroke-width="1.15"/>
<circle cx="123.90" cy="710.80" r="3.40" fill="#1212d8" stroke="#000030" stroke-width="1.15"/>
<circle cx="123.90" cy="756.30" r="3.40" fill="#1212d8" stroke="#000030" stroke-width="1.15"/>
<circle cx="123.90" cy="681.90" r="3.40" fill="#f01414" stroke="#3a0000" stroke-width="1.15"/>
<circle cx="123.90" cy="695.80" r="3.40" fill="#f01414" stroke="#3a0000" stroke-width="1.15"/>
<circle cx="123.90" cy="706.20" r="3.40" fill="#f01414" stroke="#3a0000" stroke-width="1.15"/>
<circle cx="123.90" cy="732.70" r="3.40" fill="#1ef01e" stroke="#052a05" stroke-width="1.15"/>
<circle cx="123.90" cy="739.60" r="3.40" fill="#1ef01e" stroke="#052a05" stroke-width="1.15"/>
<circle cx="123.90" cy="752.30" r="3.40" fill="#1ef01e" stroke="#052a05" stroke-width="1.15"/>
<circle cx="135.10" cy="624.80" r="3.40" fill="#f01414" stroke="#3a0000" stroke-width="1.15"/>
<circle cx="135.10" cy="755.20" r="3.40" fill="#1ef01e" stroke="#052a05" stroke-width="1.15"/>
<circle cx="157.70" cy="681.00" r="3.40" fill="#1212d8" stroke="#000030" stroke-width="1.15"/>
<circle cx="157.70" cy="694.00" r="3.40" fill="#1212d8" stroke="#000030" stroke-width="1.15"/>
<circle cx="157.70" cy="698.10" r="3.40" fill="#1212d8" stroke="#000030" stroke-width="1.15"/>
<circle cx="157.70" cy="702.70" r="3.40" fill="#1212d8" stroke="#000030" stroke-width="1.15"/>
<circle cx="157.70" cy="685.40" r="3.40" fill="#f01414" stroke="#3a0000" stroke-width="1.15"/>
<circle cx="157.70" cy="688.80" r="3.40" fill="#f01414" stroke="#3a0000" stroke-width="1.15"/>
<circle cx="157.70" cy="711.30" r="3.40" fill="#f01414" stroke="#3a0000" stroke-width="1.15"/>
<circle cx="157.70" cy="719.40" r="3.40" fill="#f01414" stroke="#3a0000" stroke-width="1.15"/>
<circle cx="157.70" cy="716.80" r="3.40" fill="#1ef01e" stroke="#052a05" stroke-width="1.15"/>
<circle cx="157.70" cy="755.80" r="3.40" fill="#1ef01e" stroke="#052a05" stroke-width="1.15"/>
<circle cx="169.00" cy="649.60" r="3.40" fill="#1212d8" stroke="#000030" stroke-width="1.15"/>
<circle cx="169.00" cy="665.20" r="3.40" fill="#1212d8" stroke="#000030" stroke-width="1.15"/>
<circle cx="169.00" cy="694.00" r="3.40" fill="#1212d8" stroke="#000030" stroke-width="1.15"/>
<circle cx="169.00" cy="732.70" r="3.40" fill="#1212d8" stroke="#000030" stroke-width="1.15"/>
<circle cx="169.00" cy="745.40" r="3.40" fill="#1212d8" stroke="#000030" stroke-width="1.15"/>
<circle cx="169.00" cy="636.30" r="3.40" fill="#f01414" stroke="#3a0000" stroke-width="1.15"/>
<circle cx="169.00" cy="702.50" r="3.40" fill="#f01414" stroke="#3a0000" stroke-width="1.15"/>
<circle cx="169.00" cy="711.90" r="3.40" fill="#f01414" stroke="#3a0000" stroke-width="1.15"/>
<circle cx="169.00" cy="641.00" r="3.40" fill="#1ef01e" stroke="#052a05" stroke-width="1.15"/>
<circle cx="169.00" cy="749.40" r="3.40" fill="#1ef01e" stroke="#052a05" stroke-width="1.15"/>
<circle cx="169.00" cy="755.80" r="3.40" fill="#1ef01e" stroke="#052a05" stroke-width="1.15"/>
<circle cx="180.20" cy="648.20" r="3.40" fill="#1212d8" stroke="#000030" stroke-width="1.15"/>
<circle cx="180.20" cy="690.60" r="3.40" fill="#1212d8" stroke="#000030" stroke-width="1.15"/>
<circle cx="180.20" cy="696.90" r="3.40" fill="#1212d8" stroke="#000030" stroke-width="1.15"/>
<circle cx="180.20" cy="733.80" r="3.40" fill="#1212d8" stroke="#000030" stroke-width="1.15"/>
<circle cx="180.20" cy="624.00" r="3.40" fill="#f01414" stroke="#3a0000" stroke-width="1.15"/>
<circle cx="180.20" cy="642.10" r="3.40" fill="#f01414" stroke="#3a0000" stroke-width="1.15"/>
<circle cx="180.20" cy="684.50" r="3.40" fill="#f01414" stroke="#3a0000" stroke-width="1.15"/>
<circle cx="180.20" cy="746.50" r="3.40" fill="#f01414" stroke="#3a0000" stroke-width="1.15"/>
<circle cx="180.20" cy="739.00" r="3.40" fill="#1ef01e" stroke="#052a05" stroke-width="1.15"/>
<circle cx="180.20" cy="752.90" r="3.40" fill="#1ef01e" stroke="#052a05" stroke-width="1.15"/>
<circle cx="180.20" cy="755.80" r="3.40" fill="#1ef01e" stroke="#052a05" stroke-width="1.15"/>
<circle cx="191.60" cy="660.00" r="3.40" fill="#1212d8" stroke="#000030" stroke-width="1.15"/>
<circle cx="191.60" cy="680.80" r="3.40" fill="#1212d8" stroke="#000030" stroke-width="1.15"/>
<circle cx="191.60" cy="755.80" r="3.40" fill="#1212d8" stroke="#000030" stroke-width="1.15"/>
<circle cx="191.60" cy="627.50" r="3.40" fill="#f01414" stroke="#3a0000" stroke-width="1.15"/>
<circle cx="191.60" cy="710.80" r="3.40" fill="#f01414" stroke="#3a0000" stroke-width="1.15"/>
<text transform="translate(212.70,724.70) rotate(-90)" x="0" y="0" font-size="10.15" text-anchor="start" fill="#222" stroke="#222" stroke-width="0.22">Gr-1/Mac-1</text>
<text transform="translate(227.20,724.70) rotate(-90)" x="0" y="0" font-size="10.15" text-anchor="start" fill="#222" stroke="#222" stroke-width="0.22">B220</text>
<text transform="translate(227.20,676.70) rotate(-90)" x="0" y="0" font-size="10.15" text-anchor="start" fill="#222" stroke="#222" stroke-width="0.22">CD3</text>
<circle cx="208.30" cy="732.30" r="3.60" fill="#1ef01e" stroke="#052a05" stroke-width="1.15"/>
<circle cx="223.40" cy="732.30" r="3.60" fill="#f01414" stroke="#3a0000" stroke-width="1.15"/>
<circle cx="223.40" cy="687.90" r="3.60" fill="#1212d8" stroke="#000030" stroke-width="1.15"/>
<text x="313.60" y="598.80" font-size="12.6" text-anchor="start" fill="#000" font-weight="bold">H</text>
<text x="405.20" y="590.80" font-size="12.2" text-anchor="middle" fill="#222" stroke="#222" stroke-width="0.22">central</text>
<text x="405.5" y="604.3" font-size="12.6" text-anchor="middle" fill="#222" stroke="#222" stroke-width="0.22">CD150<tspan dx="1.2" dy="-6" font-size="9">+</tspan><tspan dx="0.9" dy="6">CD48</tspan><tspan dy="-6" font-size="10">+</tspan><tspan dy="6">LSK</tspan></text>
<text x="354.40" y="613.70" font-size="10.3" text-anchor="middle" fill="#222" stroke="#222" stroke-width="0.22">5 weeks</text>
<text x="402.90" y="613.70" font-size="10.3" text-anchor="middle" fill="#222" stroke="#222" stroke-width="0.22">12 weeks</text>
<text x="459.80" y="613.70" font-size="10.3" text-anchor="middle" fill="#222" stroke="#222" stroke-width="0.22">20 weeks</text>
<line x1="323.20" y1="620.80" x2="485.20" y2="620.80" stroke="#000" stroke-width="2" stroke-linecap="butt"/>
<line x1="484.20" y1="620.80" x2="484.20" y2="756.10" stroke="#000" stroke-width="2" stroke-linecap="butt"/>
<line x1="327.20" y1="620.80" x2="327.20" y2="755.10" stroke="#000" stroke-width="2" stroke-linecap="butt"/>
<line x1="323.20" y1="755.10" x2="485.20" y2="755.10" stroke="#000" stroke-width="2" stroke-linecap="butt"/>
<line x1="377.40" y1="622.30" x2="377.40" y2="754.10" stroke="#000" stroke-width="1.4" stroke-linecap="butt" stroke-dasharray="10 2"/>
<line x1="433.50" y1="622.30" x2="433.50" y2="754.10" stroke="#000" stroke-width="1.4" stroke-linecap="butt" stroke-dasharray="10 2"/>
<line x1="323.20" y1="620.80" x2="327.20" y2="620.80" stroke="#000" stroke-width="2" stroke-linecap="butt"/>
<text x="317.90" y="623.70" font-size="8.2" text-anchor="end" fill="#222" stroke="#222" stroke-width="0.22">100</text>
<line x1="323.20" y1="647.66" x2="327.20" y2="647.66" stroke="#000" stroke-width="2" stroke-linecap="butt"/>
<text x="317.90" y="650.56" font-size="8.2" text-anchor="end" fill="#222" stroke="#222" stroke-width="0.22">80</text>
<line x1="323.20" y1="674.52" x2="327.20" y2="674.52" stroke="#000" stroke-width="2" stroke-linecap="butt"/>
<text x="317.90" y="677.42" font-size="8.2" text-anchor="end" fill="#222" stroke="#222" stroke-width="0.22">60</text>
<line x1="323.20" y1="701.38" x2="327.20" y2="701.38" stroke="#000" stroke-width="2" stroke-linecap="butt"/>
<text x="317.90" y="704.28" font-size="8.2" text-anchor="end" fill="#222" stroke="#222" stroke-width="0.22">40</text>
<line x1="323.20" y1="728.24" x2="327.20" y2="728.24" stroke="#000" stroke-width="2" stroke-linecap="butt"/>
<text x="317.90" y="731.14" font-size="8.2" text-anchor="end" fill="#222" stroke="#222" stroke-width="0.22">20</text>
<text x="316.40" y="758.00" font-size="8.2" text-anchor="end" fill="#222" stroke="#222" stroke-width="0.22">0</text>
<line x1="332.60" y1="755.10" x2="332.60" y2="758.90" stroke="#000" stroke-width="1.6" stroke-linecap="butt"/>
<text transform="translate(335.30,763.90) rotate(-90)" font-size="8.5" text-anchor="end" fill="#1a1a1a" stroke="#1a1a1a" stroke-width="0.22">500</text>
<line x1="344.00" y1="755.10" x2="344.00" y2="758.90" stroke="#000" stroke-width="1.6" stroke-linecap="butt"/>
<text transform="translate(346.70,763.90) rotate(-90)" font-size="8.5" text-anchor="end" fill="#1a1a1a" stroke="#1a1a1a" stroke-width="0.22">200</text>
<line x1="355.10" y1="755.10" x2="355.10" y2="758.90" stroke="#000" stroke-width="1.6" stroke-linecap="butt"/>
<text transform="translate(357.80,763.90) rotate(-90)" font-size="8.5" text-anchor="end" fill="#1a1a1a" stroke="#1a1a1a" stroke-width="0.22">100</text>
<line x1="366.40" y1="755.10" x2="366.40" y2="758.90" stroke="#000" stroke-width="1.6" stroke-linecap="butt"/>
<text transform="translate(369.10,763.90) rotate(-90)" font-size="8.5" text-anchor="end" fill="#1a1a1a" stroke="#1a1a1a" stroke-width="0.22">20</text>
<line x1="388.60" y1="755.10" x2="388.60" y2="758.90" stroke="#000" stroke-width="1.6" stroke-linecap="butt"/>
<text transform="translate(391.30,763.90) rotate(-90)" font-size="8.5" text-anchor="end" fill="#1a1a1a" stroke="#1a1a1a" stroke-width="0.22">500</text>
<line x1="399.80" y1="755.10" x2="399.80" y2="758.90" stroke="#000" stroke-width="1.6" stroke-linecap="butt"/>
<text transform="translate(402.50,763.90) rotate(-90)" font-size="8.5" text-anchor="end" fill="#1a1a1a" stroke="#1a1a1a" stroke-width="0.22">200</text>
<line x1="411.10" y1="755.10" x2="411.10" y2="758.90" stroke="#000" stroke-width="1.6" stroke-linecap="butt"/>
<text transform="translate(413.80,763.90) rotate(-90)" font-size="8.5" text-anchor="end" fill="#1a1a1a" stroke="#1a1a1a" stroke-width="0.22">100</text>
<line x1="422.30" y1="755.10" x2="422.30" y2="758.90" stroke="#000" stroke-width="1.6" stroke-linecap="butt"/>
<text transform="translate(425.00,763.90) rotate(-90)" font-size="8.5" text-anchor="end" fill="#1a1a1a" stroke="#1a1a1a" stroke-width="0.22">20</text>
<line x1="444.90" y1="755.10" x2="444.90" y2="758.90" stroke="#000" stroke-width="1.6" stroke-linecap="butt"/>
<text transform="translate(447.60,763.90) rotate(-90)" font-size="8.5" text-anchor="end" fill="#1a1a1a" stroke="#1a1a1a" stroke-width="0.22">500</text>
<line x1="456.20" y1="755.10" x2="456.20" y2="758.90" stroke="#000" stroke-width="1.6" stroke-linecap="butt"/>
<text transform="translate(458.90,763.90) rotate(-90)" font-size="8.5" text-anchor="end" fill="#1a1a1a" stroke="#1a1a1a" stroke-width="0.22">200</text>
<line x1="467.40" y1="755.10" x2="467.40" y2="758.90" stroke="#000" stroke-width="1.6" stroke-linecap="butt"/>
<text transform="translate(470.10,763.90) rotate(-90)" font-size="8.5" text-anchor="end" fill="#1a1a1a" stroke="#1a1a1a" stroke-width="0.22">100</text>
<line x1="478.80" y1="755.10" x2="478.80" y2="758.90" stroke="#000" stroke-width="1.6" stroke-linecap="butt"/>
<text transform="translate(481.50,763.90) rotate(-90)" font-size="8.5" text-anchor="end" fill="#1a1a1a" stroke="#1a1a1a" stroke-width="0.22">20</text>
<text x="410.00" y="790.30" font-size="10.35" text-anchor="middle" fill="#222" stroke="#222" stroke-width="0.22">cell dose</text>
<text transform="translate(294.40,696.00) rotate(-90)" x="0" y="0" font-size="10.25" text-anchor="middle" fill="#222" stroke="#222" stroke-width="0.22">% of cell lineage</text>
<circle cx="332.60" cy="688.80" r="3.40" fill="#1212d8" stroke="#000030" stroke-width="1.15"/>
<circle cx="332.60" cy="630.90" r="3.40" fill="#f01414" stroke="#3a0000" stroke-width="1.15"/>
<circle cx="332.60" cy="697.20" r="3.40" fill="#f01414" stroke="#3a0000" stroke-width="1.15"/>
<circle cx="332.60" cy="714.20" r="3.40" fill="#f01414" stroke="#3a0000" stroke-width="1.15"/>
<circle cx="332.60" cy="717.70" r="3.40" fill="#f01414" stroke="#3a0000" stroke-width="1.15"/>
<circle cx="332.60" cy="647.50" r="3.40" fill="#1ef01e" stroke="#052a05" stroke-width="1.15"/>
<circle cx="332.60" cy="678.20" r="3.40" fill="#1ef01e" stroke="#052a05" stroke-width="1.15"/>
<circle cx="332.60" cy="724.40" r="3.40" fill="#1ef01e" stroke="#052a05" stroke-width="1.15"/>
<circle cx="332.60" cy="752.90" r="3.40" fill="#1ef01e" stroke="#052a05" stroke-width="1.15"/>
<circle cx="344.00" cy="646.40" r="3.40" fill="#f01414" stroke="#3a0000" stroke-width="1.15"/>
<circle cx="344.00" cy="678.20" r="3.40" fill="#f01414" stroke="#3a0000" stroke-width="1.15"/>
<circle cx="344.00" cy="715.40" r="3.40" fill="#f01414" stroke="#3a0000" stroke-width="1.15"/>
<circle cx="344.00" cy="750.60" r="3.40" fill="#f01414" stroke="#3a0000" stroke-width="1.15"/>
<circle cx="344.00" cy="754.00" r="3.40" fill="#f01414" stroke="#3a0000" stroke-width="1.15"/>
<circle cx="344.00" cy="621.70" r="3.40" fill="#1ef01e" stroke="#052a05" stroke-width="1.15"/>
<circle cx="344.00" cy="699.50" r="3.40" fill="#1ef01e" stroke="#052a05" stroke-width="1.15"/>
<circle cx="344.00" cy="729.00" r="3.40" fill="#1ef01e" stroke="#052a05" stroke-width="1.15"/>
<circle cx="344.00" cy="737.30" r="3.40" fill="#1ef01e" stroke="#052a05" stroke-width="1.15"/>
<circle cx="344.00" cy="741.30" r="3.40" fill="#1ef01e" stroke="#052a05" stroke-width="1.15"/>
<circle cx="355.10" cy="655.60" r="3.40" fill="#f01414" stroke="#3a0000" stroke-width="1.15"/>
<circle cx="355.10" cy="677.90" r="3.40" fill="#f01414" stroke="#3a0000" stroke-width="1.15"/>
<circle cx="355.10" cy="744.20" r="3.40" fill="#f01414" stroke="#3a0000" stroke-width="1.15"/>
<circle cx="355.10" cy="685.60" r="3.40" fill="#1ef01e" stroke="#052a05" stroke-width="1.15"/>
<circle cx="355.10" cy="719.40" r="3.40" fill="#1ef01e" stroke="#052a05" stroke-width="1.15"/>
<circle cx="355.10" cy="738.50" r="3.40" fill="#1ef01e" stroke="#052a05" stroke-width="1.15"/>
<circle cx="355.10" cy="747.10" r="3.40" fill="#1ef01e" stroke="#052a05" stroke-width="1.15"/>
<circle cx="366.40" cy="726.90" r="3.40" fill="#f01414" stroke="#3a0000" stroke-width="1.15"/>
<circle cx="366.40" cy="746.50" r="3.40" fill="#f01414" stroke="#3a0000" stroke-width="1.15"/>
<circle cx="366.40" cy="647.50" r="3.40" fill="#1ef01e" stroke="#052a05" stroke-width="1.15"/>
<circle cx="366.40" cy="744.80" r="3.40" fill="#1ef01e" stroke="#052a05" stroke-width="1.15"/>
<circle cx="388.60" cy="647.10" r="3.40" fill="#1212d8" stroke="#000030" stroke-width="1.15"/>
<circle cx="388.60" cy="653.70" r="3.40" fill="#1212d8" stroke="#000030" stroke-width="1.15"/>
<circle cx="388.60" cy="657.10" r="3.40" fill="#1212d8" stroke="#000030" stroke-width="1.15"/>
<circle cx="388.60" cy="671.80" r="3.40" fill="#1212d8" stroke="#000030" stroke-width="1.15"/>
<circle cx="388.60" cy="724.00" r="3.40" fill="#1212d8" stroke="#000030" stroke-width="1.15"/>
<circle cx="388.60" cy="718.30" r="3.40" fill="#f01414" stroke="#3a0000" stroke-width="1.15"/>
<circle cx="388.60" cy="728.70" r="3.40" fill="#f01414" stroke="#3a0000" stroke-width="1.15"/>
<circle cx="388.60" cy="732.10" r="3.40" fill="#f01414" stroke="#3a0000" stroke-width="1.15"/>
<circle cx="388.60" cy="713.10" r="3.40" fill="#1ef01e" stroke="#052a05" stroke-width="1.15"/>
<circle cx="388.60" cy="742.50" r="3.40" fill="#1ef01e" stroke="#052a05" stroke-width="1.15"/>
<circle cx="388.60" cy="746.00" r="3.40" fill="#1ef01e" stroke="#052a05" stroke-width="1.15"/>
<circle cx="388.60" cy="755.20" r="3.40" fill="#1ef01e" stroke="#052a05" stroke-width="1.15"/>
<circle cx="399.80" cy="645.60" r="3.40" fill="#1212d8" stroke="#000030" stroke-width="1.15"/>
<circle cx="399.80" cy="653.10" r="3.40" fill="#1212d8" stroke="#000030" stroke-width="1.15"/>
<circle cx="399.80" cy="746.00" r="3.40" fill="#1212d8" stroke="#000030" stroke-width="1.15"/>
<circle cx="399.80" cy="622.80" r="3.40" fill="#f01414" stroke="#3a0000" stroke-width="1.15"/>
<circle cx="399.80" cy="690.90" r="3.40" fill="#f01414" stroke="#3a0000" stroke-width="1.15"/>
<circle cx="399.80" cy="727.50" r="3.40" fill="#f01414" stroke="#3a0000" stroke-width="1.15"/>
<circle cx="399.80" cy="749.40" r="3.40" fill="#f01414" stroke="#3a0000" stroke-width="1.15"/>
<circle cx="399.80" cy="710.80" r="3.40" fill="#1ef01e" stroke="#052a05" stroke-width="1.15"/>
<circle cx="399.80" cy="752.90" r="3.40" fill="#1ef01e" stroke="#052a05" stroke-width="1.15"/>
<circle cx="399.80" cy="755.80" r="3.40" fill="#1ef01e" stroke="#052a05" stroke-width="1.15"/>
<circle cx="411.10" cy="636.30" r="3.40" fill="#1212d8" stroke="#000030" stroke-width="1.15"/>
<circle cx="411.10" cy="688.30" r="3.40" fill="#1212d8" stroke="#000030" stroke-width="1.15"/>
<circle cx="411.10" cy="696.90" r="3.40" fill="#1212d8" stroke="#000030" stroke-width="1.15"/>
<circle cx="411.10" cy="727.20" r="3.40" fill="#f01414" stroke="#3a0000" stroke-width="1.15"/>
<circle cx="411.10" cy="740.80" r="3.40" fill="#f01414" stroke="#3a0000" stroke-width="1.15"/>
<circle cx="411.10" cy="743.10" r="3.40" fill="#f01414" stroke="#3a0000" stroke-width="1.15"/>
<circle cx="411.10" cy="707.90" r="3.40" fill="#1ef01e" stroke="#052a05" stroke-width="1.15"/>
<circle cx="411.10" cy="732.70" r="3.40" fill="#1ef01e" stroke="#052a05" stroke-width="1.15"/>
<circle cx="411.10" cy="755.80" r="3.40" fill="#1ef01e" stroke="#052a05" stroke-width="1.15"/>
<circle cx="422.30" cy="653.70" r="3.40" fill="#1212d8" stroke="#000030" stroke-width="1.15"/>
<circle cx="422.30" cy="733.60" r="3.40" fill="#f01414" stroke="#3a0000" stroke-width="1.15"/>
<circle cx="422.30" cy="755.80" r="3.40" fill="#1ef01e" stroke="#052a05" stroke-width="1.15"/>
<circle cx="444.90" cy="662.90" r="3.40" fill="#1212d8" stroke="#000030" stroke-width="1.15"/>
<circle cx="444.90" cy="675.00" r="3.40" fill="#1212d8" stroke="#000030" stroke-width="1.15"/>
<circle cx="444.90" cy="677.30" r="3.40" fill="#1212d8" stroke="#000030" stroke-width="1.15"/>
<circle cx="444.90" cy="733.60" r="3.40" fill="#1212d8" stroke="#000030" stroke-width="1.15"/>
<circle cx="444.90" cy="646.70" r="3.40" fill="#f01414" stroke="#3a0000" stroke-width="1.15"/>
<circle cx="444.90" cy="714.20" r="3.40" fill="#f01414" stroke="#3a0000" stroke-width="1.15"/>
<circle cx="444.90" cy="717.70" r="3.40" fill="#f01414" stroke="#3a0000" stroke-width="1.15"/>
<circle cx="444.90" cy="742.50" r="3.40" fill="#1ef01e" stroke="#052a05" stroke-width="1.15"/>
<circle cx="444.90" cy="745.40" r="3.40" fill="#1ef01e" stroke="#052a05" stroke-width="1.15"/>
<circle cx="444.90" cy="755.20" r="3.40" fill="#1ef01e" stroke="#052a05" stroke-width="1.15"/>
<circle cx="456.20" cy="637.50" r="3.40" fill="#1212d8" stroke="#000030" stroke-width="1.15"/>
<circle cx="456.20" cy="660.60" r="3.40" fill="#1212d8" stroke="#000030" stroke-width="1.15"/>
<circle cx="456.20" cy="704.40" r="3.40" fill="#1212d8" stroke="#000030" stroke-width="1.15"/>
<circle cx="456.20" cy="714.20" r="3.40" fill="#1212d8" stroke="#000030" stroke-width="1.15"/>
<circle cx="456.20" cy="748.30" r="3.40" fill="#1212d8" stroke="#000030" stroke-width="1.15"/>
<circle cx="456.20" cy="630.60" r="3.40" fill="#f01414" stroke="#3a0000" stroke-width="1.15"/>
<circle cx="456.20" cy="649.60" r="3.40" fill="#f01414" stroke="#3a0000" stroke-width="1.15"/>
<circle cx="456.20" cy="651.30" r="3.40" fill="#f01414" stroke="#3a0000" stroke-width="1.15"/>
<circle cx="456.20" cy="666.30" r="3.40" fill="#f01414" stroke="#3a0000" stroke-width="1.15"/>
<circle cx="456.20" cy="707.90" r="3.40" fill="#f01414" stroke="#3a0000" stroke-width="1.15"/>
<circle cx="456.20" cy="718.30" r="3.40" fill="#f01414" stroke="#3a0000" stroke-width="1.15"/>
<circle cx="456.20" cy="733.60" r="3.40" fill="#f01414" stroke="#3a0000" stroke-width="1.15"/>
<circle cx="456.20" cy="737.10" r="3.40" fill="#1ef01e" stroke="#052a05" stroke-width="1.15"/>
<circle cx="456.20" cy="755.20" r="3.40" fill="#1ef01e" stroke="#052a05" stroke-width="1.15"/>
<circle cx="467.40" cy="661.70" r="3.40" fill="#1212d8" stroke="#000030" stroke-width="1.15"/>
<circle cx="467.40" cy="664.60" r="3.40" fill="#1212d8" stroke="#000030" stroke-width="1.15"/>
<circle cx="467.40" cy="667.50" r="3.40" fill="#1212d8" stroke="#000030" stroke-width="1.15"/>
<circle cx="467.40" cy="714.20" r="3.40" fill="#f01414" stroke="#3a0000" stroke-width="1.15"/>
<circle cx="467.40" cy="719.40" r="3.40" fill="#f01414" stroke="#3a0000" stroke-width="1.15"/>
<circle cx="467.40" cy="729.80" r="3.40" fill="#f01414" stroke="#3a0000" stroke-width="1.15"/>
<circle cx="467.40" cy="736.20" r="3.40" fill="#f01414" stroke="#3a0000" stroke-width="1.15"/>
<circle cx="467.40" cy="686.50" r="3.40" fill="#1ef01e" stroke="#052a05" stroke-width="1.15"/>
<circle cx="467.40" cy="755.20" r="3.40" fill="#1ef01e" stroke="#052a05" stroke-width="1.15"/>
<circle cx="478.80" cy="640.40" r="3.40" fill="#1212d8" stroke="#000030" stroke-width="1.15"/>
<circle cx="478.80" cy="650.20" r="3.40" fill="#1212d8" stroke="#000030" stroke-width="1.15"/>
<circle cx="478.80" cy="748.80" r="3.40" fill="#1212d8" stroke="#000030" stroke-width="1.15"/>
<circle cx="478.80" cy="634.60" r="3.40" fill="#f01414" stroke="#3a0000" stroke-width="1.15"/>
<circle cx="478.80" cy="739.60" r="3.40" fill="#f01414" stroke="#3a0000" stroke-width="1.15"/>
<circle cx="478.80" cy="743.10" r="3.40" fill="#f01414" stroke="#3a0000" stroke-width="1.15"/>
<circle cx="478.80" cy="755.20" r="3.40" fill="#1ef01e" stroke="#052a05" stroke-width="1.15"/>
<text transform="translate(503.10,724.50) rotate(-90)" x="0" y="0" font-size="10.15" text-anchor="start" fill="#222" stroke="#222" stroke-width="0.22">Gr-1/Mac-1</text>
<text transform="translate(517.60,724.50) rotate(-90)" x="0" y="0" font-size="10.15" text-anchor="start" fill="#222" stroke="#222" stroke-width="0.22">B220</text>
<text transform="translate(517.60,676.50) rotate(-90)" x="0" y="0" font-size="10.15" text-anchor="start" fill="#222" stroke="#222" stroke-width="0.22">CD3</text>
<circle cx="498.70" cy="732.10" r="3.60" fill="#1ef01e" stroke="#052a05" stroke-width="1.15"/>
<circle cx="513.80" cy="732.10" r="3.60" fill="#f01414" stroke="#3a0000" stroke-width="1.15"/>
<circle cx="513.80" cy="687.70" r="3.60" fill="#1212d8" stroke="#000030" stroke-width="1.15"/>
</svg></body></html>
